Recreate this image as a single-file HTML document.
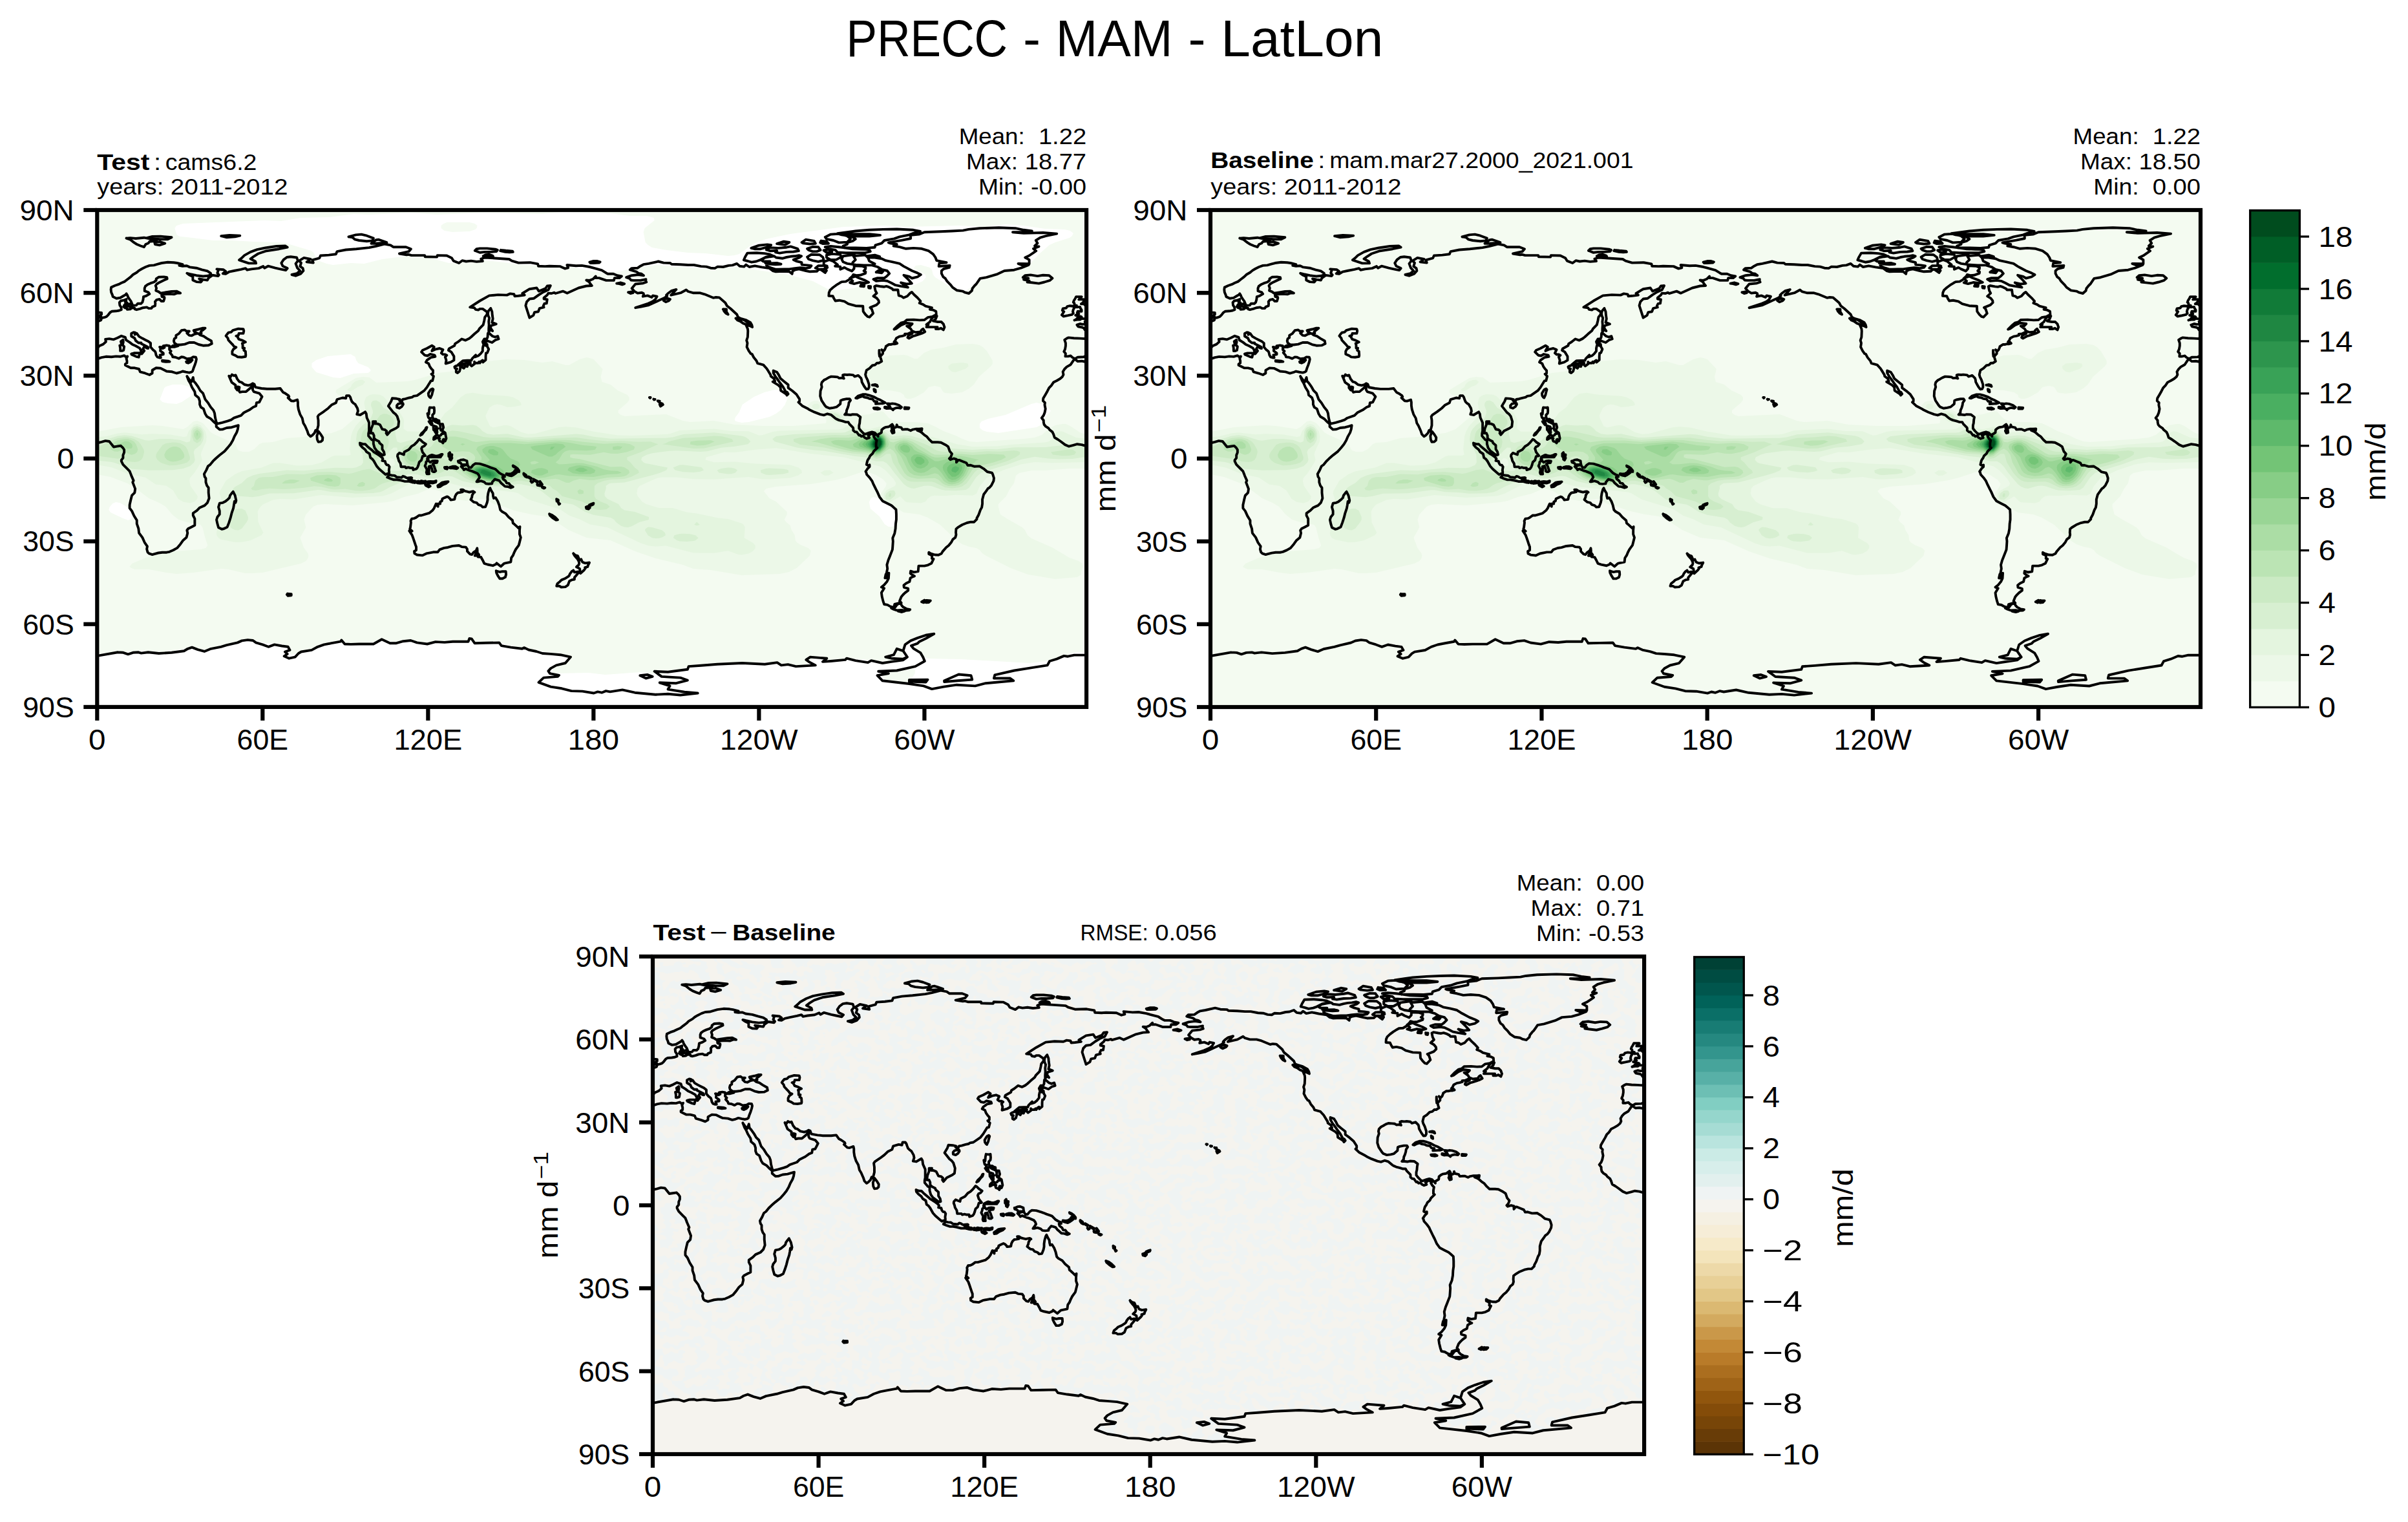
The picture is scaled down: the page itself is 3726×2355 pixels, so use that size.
<!DOCTYPE html>
<html><head><meta charset="utf-8"><title>PRECC - MAM - LatLon</title>
<style>
html,body{margin:0;padding:0;background:#fff;}
svg{display:block;}
text{font-family:"Liberation Sans",sans-serif;fill:#000;}
</style></head><body>
<svg width="3726" height="2355" viewBox="0 0 3726 2355">
<rect width="3726" height="2355" fill="#fff"/>
<defs>
<clipPath id="clip"><rect x="0" y="0" width="1530.18" height="768.91"/></clipPath>
<path id="coast" d="M139.0 257.2L141.6 264.0L144.2 268.3L146.7 274.2L151.0 281.1L151.8 286.2L157.0 290.5L158.7 295.6L158.7 300.7L160.4 305.0L164.6 307.6L167.2 315.3L169.8 319.5L175.7 322.9L180.8 328.1L184.3 331.1L184.3 335.3L189.4 339.6L194.5 339.2L200.5 337.0L208.1 336.2L214.1 334.5L218.4 333.2L217.5 339.2L215.8 344.3L212.4 350.3L209.9 356.3L206.4 362.2L202.2 367.4L197.1 373.3L189.4 379.3L183.4 384.5L179.1 388.7L174.9 393.9L171.5 396.4L168.9 402.4L165.5 408.4L166.3 412.6L168.1 415.2L168.1 421.2L169.8 426.3L172.3 429.7L172.3 437.4L173.2 446.0L170.6 452.8L166.3 457.1L158.7 460.5L154.4 464.8L148.4 469.0L148.4 472.5L151.0 477.6L151.0 484.4L151.0 487.8L145.9 490.4L140.8 493.0L139.0 495.5L139.9 499.8L138.2 506.6L133.1 510.9L128.8 516.9L123.7 522.9L117.7 526.3L111.8 528.8L107.5 529.7L100.7 529.7L94.7 530.5L87.9 532.3L85.3 533.1L80.2 531.4L78.1 529.3L76.8 524.6L77.6 520.3L73.4 514.3L70.0 506.6L64.8 499.8L64.0 493.0L61.4 485.3L61.4 480.1L57.2 473.3L53.7 465.6L50.3 461.3L50.3 456.2L52.0 448.5L53.7 441.7L58.0 437.4L58.9 431.4L56.3 424.6L55.0 421.2L56.3 418.6L52.9 410.9L52.0 408.4L50.3 404.1L46.9 400.7L40.1 393.9L37.5 388.7L37.5 387.0L40.1 383.6L40.1 379.3L41.8 375.1L41.8 370.8L40.1 368.2L36.7 364.8L30.7 365.7L25.6 366.5L22.2 362.2L18.8 358.0L12.8 357.1L6.8 358.8L0.0 360.5L-4.3 363.1L-8.5 364.4L-12.8 363.1L-19.6 362.2L-25.6 363.9L-32.4 365.7L-38.4 363.1L-45.2 358.0L-49.5 355.0L-54.6 352.0L-56.3 346.9L-58.0 343.4L-62.3 340.0L-64.0 337.5L-68.2 334.9L-70.8 331.9L-71.7 328.1L-71.7 325.5L-74.6 321.7L-71.7 317.8L-70.0 313.5L-68.7 307.6L-70.0 301.6L-69.5 298.2L-72.5 295.2L-72.1 291.3L-69.1 286.2L-65.7 280.2L-63.1 275.1L-59.7 271.7L-56.3 266.6L-51.2 264.0L-46.1 261.0L-42.7 258.0L-40.9 254.6L-41.8 250.3L-39.2 246.0L-35.8 242.6L-29.9 239.2L-26.4 234.1L-24.7 231.5L-22.2 231.5L-18.8 234.1L-12.8 233.7L-8.5 234.5L-3.4 231.5L1.7 229.8L6.8 228.1L13.6 226.8L22.2 227.3L29.0 226.4L35.8 226.8L41.8 225.1L44.4 227.3L46.9 226.4L45.2 229.8L46.1 233.2L46.1 236.7L43.5 238.4L43.5 240.1L46.9 241.8L52.0 244.3L58.0 244.3L64.8 246.0L66.5 250.3L74.2 252.5L81.0 255.0L85.3 252.5L85.3 247.8L91.3 244.3L98.1 244.8L104.1 247.8L107.5 249.5L116.0 250.3L122.8 252.5L128.0 251.2L132.2 249.5L137.3 250.7L142.5 251.6L145.9 250.7M1674.6 257.2L1677.1 264.0L1679.7 268.3L1682.2 274.2L1686.5 281.1L1687.4 286.2L1692.5 290.5L1694.2 295.6L1694.2 300.7L1695.9 305.0L1700.1 307.6L1702.7 315.3L1705.3 319.5L1711.2 322.9L1716.4 328.1L1719.8 331.1L1719.8 335.3L1724.9 339.6L1730.0 339.2L1736.0 337.0L1743.7 336.2L1749.6 334.5L1753.9 333.2L1753.0 339.2L1751.3 344.3L1747.9 350.3L1745.4 356.3L1741.9 362.2L1737.7 367.4L1732.6 373.3L1724.9 379.3L1718.9 384.5L1714.7 388.7L1710.4 393.9L1707.0 396.4L1704.4 402.4L1701.0 408.4L1701.9 412.6L1703.6 415.2L1703.6 421.2L1705.3 426.3L1707.8 429.7L1707.8 437.4L1708.7 446.0L1706.1 452.8L1701.9 457.1L1694.2 460.5L1689.9 464.8L1683.9 469.0L1683.9 472.5L1686.5 477.6L1686.5 484.4L1686.5 487.8L1681.4 490.4L1676.3 493.0L1674.6 495.5L1675.4 499.8L1673.7 506.6L1668.6 510.9L1664.3 516.9L1659.2 522.9L1653.2 526.3L1647.3 528.8L1643.0 529.7L1636.2 529.7L1630.2 530.5L1623.4 532.3L1620.8 533.1L1615.7 531.4L1613.6 529.3L1612.3 524.6L1613.1 520.3L1608.9 514.3L1605.5 506.6L1600.3 499.8L1599.5 493.0L1596.9 485.3L1596.9 480.1L1592.7 473.3L1589.3 465.6L1585.8 461.3L1585.8 456.2L1587.5 448.5L1589.3 441.7L1593.5 437.4L1594.4 431.4L1591.8 424.6L1590.5 421.2L1591.8 418.6L1588.4 410.9L1587.5 408.4L1585.8 404.1L1582.4 400.7L1575.6 393.9L1573.0 388.7L1573.0 387.0L1575.6 383.6L1575.6 379.3L1577.3 375.1L1577.3 370.8L1575.6 368.2L1572.2 364.8L1566.2 365.7L1561.1 366.5L1557.7 362.2L1554.3 358.0L1548.3 357.1L1542.3 358.8L1535.5 360.5L1531.2 363.1L1527.0 364.4L1522.7 363.1L1515.9 362.2L1509.9 363.9L1503.1 365.7L1497.1 363.1L1490.3 358.0L1486.0 355.0L1480.9 352.0L1479.2 346.9L1477.5 343.4L1473.2 340.0L1471.5 337.5L1467.3 334.9L1464.7 331.9L1463.9 328.1L1463.9 325.5L1460.9 321.7L1463.9 317.8L1465.6 313.5L1466.8 307.6L1465.6 301.6L1466.0 298.2L1463.0 295.2L1463.4 291.3L1466.4 286.2L1469.8 280.2L1472.4 275.1L1475.8 271.7L1479.2 266.6L1484.3 264.0L1489.4 261.0L1492.9 258.0L1494.6 254.6L1493.7 250.3L1496.3 246.0L1499.7 242.6L1505.7 239.2L1509.1 234.1L1510.8 231.5L1513.3 231.5L1516.7 234.1L1522.7 233.7L1527.0 234.5L1532.1 231.5L1537.2 229.8L1542.3 228.1L1549.2 226.8L1557.7 227.3L1564.5 226.4L1571.3 226.8L1577.3 225.1L1579.9 227.3L1582.4 226.4L1580.7 229.8L1581.6 233.2L1581.6 236.7L1579.0 238.4L1579.0 240.1L1582.4 241.8L1587.5 244.3L1593.5 244.3L1600.3 246.0L1602.0 250.3L1609.7 252.5L1616.5 255.0L1620.8 252.5L1620.8 247.8L1626.8 244.3L1633.6 244.8L1639.6 247.8L1643.0 249.5L1651.5 250.3L1658.3 252.5L1663.5 251.2L1667.7 249.5L1672.9 250.7L1678.0 251.6L1681.4 250.7M210.3 435.7L213.3 441.7L215.0 449.4L214.1 452.8L212.4 450.7L211.6 456.2L210.7 461.3L208.1 469.0L206.4 475.9L203.9 483.6L201.3 490.4L196.2 493.0L192.8 493.8L187.7 491.2L186.0 485.3L184.7 479.3L186.0 475.0L189.4 470.7L189.4 465.6L187.7 459.6L189.4 453.7L194.5 452.8L197.9 451.1L202.2 447.7L204.7 445.1L205.6 441.7L208.1 438.3L210.3 435.7M-23.9 170.4L-19.6 169.6L-15.4 169.6L-12.8 167.9L-8.5 168.3L-4.3 167.5L0.9 167.5L5.1 166.2L6.0 164.9L2.6 164.5L4.3 163.2L6.8 161.5L6.8 158.9L1.7 158.5L0.9 156.3L-0.9 155.1L-0.9 152.9L-5.1 150.8L-6.8 147.8L-9.4 145.2L-13.6 145.2L-11.1 143.5L-9.4 141.0L-7.7 138.4L-14.5 138.0L-17.1 138.4L-14.5 135.8L-12.8 134.1L-21.3 134.1L-23.0 137.5L-24.7 140.1L-25.6 142.7L-23.9 144.4L-23.9 147.8L-20.5 147.8L-20.5 150.4L-15.4 149.9L-14.5 152.1L-12.8 154.6L-12.8 156.8L-18.8 156.8L-19.6 158.9L-17.1 160.6L-22.2 162.8L-17.9 164.0L-13.6 164.9L-12.8 165.7L-17.9 165.7L-21.3 169.2L-23.9 170.4M1511.6 170.4L1515.9 169.6L1520.2 169.6L1522.7 167.9L1527.0 168.3L1531.2 167.5L1536.4 167.5L1540.6 166.2L1541.5 164.9L1538.1 164.5L1539.8 163.2L1542.3 161.5L1542.3 158.9L1537.2 158.5L1536.4 156.3L1534.7 155.1L1534.7 152.9L1530.4 150.8L1528.7 147.8L1526.1 145.2L1521.9 145.2L1524.4 143.5L1526.1 141.0L1527.8 138.4L1521.0 138.0L1518.4 138.4L1521.0 135.8L1522.7 134.1L1514.2 134.1L1512.5 137.5L1510.8 140.1L1509.9 142.7L1511.6 144.4L1511.6 147.8L1515.0 147.8L1515.0 150.4L1520.2 149.9L1521.0 152.1L1522.7 154.6L1522.7 156.8L1516.7 156.8L1515.9 158.9L1518.4 160.6L1513.3 162.8L1517.6 164.0L1521.9 164.9L1522.7 165.7L1517.6 165.7L1514.2 169.2L1511.6 170.4M1509.1 157.2L1509.9 159.8L1507.4 161.9L1501.4 163.2L1494.6 164.5L1492.0 162.3L1493.7 159.8L1495.4 157.2L1492.9 155.5L1493.7 152.5L1498.8 151.6L1500.5 149.1L1504.8 148.2L1509.1 148.7L1511.6 151.2L1509.9 153.8L1509.1 157.2M1435.3 101.2L1443.8 100.4L1454.5 102.1L1463.0 100.8L1472.4 101.2L1477.5 105.5L1473.7 108.9L1465.1 111.5L1456.6 113.6L1445.9 112.3L1438.7 111.5L1441.7 109.4L1433.1 107.6L1440.4 105.5L1431.9 104.2L1435.3 101.2M52.9 222.6L57.2 221.3L64.8 221.3L66.5 221.3L64.8 225.5L64.4 227.7L60.6 226.8L53.7 223.8L52.9 222.6M35.0 209.7L39.2 208.5L41.8 211.4L40.9 217.0L38.4 217.9L35.8 217.9L35.8 213.6L35.0 209.7M36.7 203.3L40.1 200.8L40.5 204.2L39.7 207.6L37.5 206.8L36.7 203.3M100.7 232.8L104.9 233.2L110.0 233.7L112.2 234.5L106.6 234.9L100.7 234.1L100.7 232.8M137.8 234.5L140.8 233.2L147.2 232.0L144.6 234.9L140.8 236.7L138.2 235.8L137.8 234.5M47.8 146.5L51.2 144.8L53.7 145.7L52.9 148.2L51.2 149.9L47.8 148.7L47.8 146.5M41.8 147.4L45.2 147.4L46.1 149.1L43.5 149.5L41.8 147.4M45.2 43.6L51.2 45.7L57.2 50.4L61.4 53.0L67.4 55.5L72.5 57.2L75.1 53.0L79.3 51.3L81.0 48.7L92.1 47.8L81.0 44.4L72.5 42.7L59.7 44.0L51.2 43.1L45.2 43.6M76.8 43.1L85.3 41.0L98.1 40.6L115.2 42.3L109.2 45.3L97.2 45.3L87.9 44.4L76.8 43.1M88.7 49.6L97.2 49.1L104.9 51.7L96.4 54.3L89.6 53.0L88.7 49.6M191.9 40.2L204.7 38.9L220.9 39.7L213.3 41.4L200.5 42.3L191.9 40.2M219.7 77.3L223.5 74.3L227.8 70.1L237.2 64.9L247.4 61.1L260.2 58.5L277.2 56.0L290.9 55.5L294.3 57.7L281.5 60.2L261.9 63.2L249.1 67.5L242.3 71.8L237.2 75.6L244.8 79.5L245.7 82.4L234.6 82.4L228.6 80.3L219.7 77.3M818.5 104.2L827.0 101.2L836.9 100.0L845.4 101.2L842.0 98.7L837.3 97.8L833.9 95.3L824.1 92.5L826.6 90.1L836.0 89.7L840.3 86.7L845.0 84.2L853.1 82.9L868.0 79.5L876.1 81.6L886.3 82.0L888.5 83.7L902.1 84.2L914.1 85.0L923.0 85.0L934.1 87.1L942.2 87.6L949.0 89.7L955.4 90.1L959.7 87.6L968.2 88.0L976.8 85.9L982.7 85.4L989.5 82.9L993.8 86.7L1000.6 87.6L1003.6 84.6L1008.7 88.0L1017.3 86.3L1027.9 88.4L1039.9 90.1L1045.0 94.0L1049.7 95.3L1062.1 94.8L1070.6 95.3L1074.9 98.7L1075.7 94.4L1079.1 92.7L1085.5 91.4L1096.2 94.0L1102.6 95.3L1113.2 94.8L1115.8 92.3L1118.8 91.8L1126.0 97.0L1128.2 93.6L1125.6 89.7L1129.0 86.7L1123.9 85.0L1123.9 80.3L1132.4 76.9L1138.8 79.5L1145.2 84.6L1141.4 86.7L1149.5 87.6L1149.5 91.8L1155.9 88.9L1160.2 91.4L1167.4 94.4L1170.8 90.6L1170.8 86.3L1183.2 86.7L1188.7 88.9L1188.3 91.4L1185.8 94.0L1188.7 95.7L1188.3 97.8L1180.2 100.8L1174.2 101.2L1169.5 100.0L1168.3 102.1L1164.4 105.9L1163.1 107.6L1158.0 110.6L1151.6 111.1L1148.6 112.8L1143.1 116.2L1138.0 120.0L1133.7 123.9L1132.0 127.7L1131.6 132.8L1138.0 133.3L1139.7 137.1L1141.8 140.5L1147.8 139.7L1155.9 141.4L1161.9 145.2L1173.0 148.2L1184.5 148.7L1184.9 156.8L1188.3 161.5L1191.7 164.9L1194.7 165.7L1200.3 159.8L1198.1 153.4L1195.6 150.8L1205.4 146.9L1209.2 143.1L1208.8 140.1L1205.8 136.3L1200.7 133.3L1205.8 128.6L1203.7 124.7L1202.4 118.3L1204.9 117.0L1212.6 118.3L1216.9 118.8L1220.7 117.9L1224.6 119.2L1229.7 121.7L1231.0 123.5L1238.6 123.5L1239.1 127.3L1239.9 132.4L1243.8 133.3L1247.2 135.8L1253.1 133.3L1257.4 128.6L1260.0 126.9L1263.4 130.7L1268.9 135.8L1273.6 141.0L1271.9 144.0L1277.5 146.1L1281.3 148.7L1291.1 151.2L1288.1 153.8L1292.8 154.6L1297.5 156.8L1297.9 161.9L1294.9 163.2L1292.0 164.9L1284.7 166.2L1279.6 170.0L1272.3 170.4L1263.0 169.6L1252.3 170.0L1248.9 173.0L1243.3 174.7L1238.2 179.0L1232.7 184.5L1235.7 183.7L1243.3 178.1L1251.4 174.7L1260.8 176.0L1257.8 179.0L1252.3 179.4L1258.3 183.7L1260.4 187.1L1265.9 189.2L1273.2 188.4L1275.3 185.4L1277.5 183.7L1280.4 188.4L1275.3 190.9L1264.7 194.4L1261.7 195.2L1255.7 198.6L1253.6 197.4L1254.9 193.9L1260.8 190.9L1258.7 189.2L1254.0 191.4L1249.3 191.8L1249.7 193.5L1245.5 194.8L1241.2 195.6L1236.1 198.2L1234.4 202.1L1232.7 203.8L1234.8 205.9L1236.1 204.8L1237.4 206.3L1234.4 207.2L1231.0 207.2L1227.6 208.0L1224.6 208.0L1219.9 211.0L1219.9 211.9L1218.2 216.1L1216.0 218.3L1213.5 216.1L1215.2 218.7L1215.2 222.1L1211.8 226.0L1210.1 222.1L1209.6 217.0L1209.6 222.1L1210.1 226.4L1211.3 226.8L1212.2 230.2L1213.5 234.1L1209.2 236.7L1206.2 236.7L1203.2 239.6L1199.0 240.5L1194.7 244.8L1190.0 247.8L1188.3 254.6L1189.2 258.0L1191.7 263.1L1193.9 270.0L1193.9 274.2L1192.6 276.8L1189.6 277.2L1186.6 273.0L1184.9 270.0L1182.8 266.1L1182.3 262.3L1181.5 260.1L1177.2 255.9L1171.7 257.6L1169.5 255.4L1163.6 254.6L1160.2 255.0L1155.9 254.6L1153.3 255.4L1154.2 259.3L1155.0 260.6L1151.6 259.7L1147.8 260.1L1145.2 258.4L1141.0 258.0L1135.4 257.6L1131.2 259.3L1127.7 261.4L1124.3 263.1L1120.9 266.6L1120.1 270.0L1120.9 273.8L1118.8 279.8L1118.4 287.9L1120.5 294.7L1125.6 302.4L1127.7 304.6L1132.9 306.7L1138.8 305.9L1144.0 304.6L1149.5 299.9L1149.9 294.7L1152.9 293.5L1159.3 292.2L1164.0 292.2L1165.3 294.3L1162.7 298.2L1162.3 301.6L1161.0 305.9L1159.3 309.7L1158.9 313.5L1156.3 316.5L1160.6 316.5L1165.3 317.0L1168.7 316.1L1175.5 316.5L1180.6 320.4L1179.8 324.6L1179.4 329.8L1178.5 333.2L1178.5 337.9L1181.5 341.7L1184.9 345.2L1187.9 346.9L1194.7 344.3L1198.5 343.4L1202.8 344.7L1205.4 347.3L1207.9 350.3L1207.5 347.7L1213.1 344.3L1213.5 340.0L1216.5 337.5L1219.0 336.2L1224.6 335.3L1229.7 331.5L1231.4 334.0L1228.8 337.0L1230.1 337.9L1228.4 341.7L1230.1 345.2L1232.7 344.3L1232.2 340.0L1231.0 337.9L1236.1 335.8L1236.9 332.3L1237.8 335.3L1243.8 336.6L1245.5 339.6L1250.2 339.2L1253.6 339.2L1258.3 341.3L1261.7 339.6L1266.8 338.7L1271.5 338.7L1268.5 340.9L1272.8 342.6L1275.8 344.7L1279.6 348.1L1283.0 350.3L1287.3 355.4L1291.5 359.2L1300.1 359.2L1305.2 359.7L1312.4 363.5L1316.3 366.1L1318.8 373.3L1322.2 377.2L1320.5 381.9L1318.0 384.5L1319.7 386.2L1324.8 384.5L1329.1 385.7L1329.1 390.4L1331.6 387.0L1333.8 387.0L1339.3 389.2L1344.4 391.3L1346.6 395.1L1350.4 394.7L1357.2 396.8L1364.9 396.4L1371.3 400.3L1376.8 405.0L1384.1 406.7L1385.4 409.2L1387.1 414.8L1386.6 419.1L1383.2 425.9L1380.3 429.3L1377.7 431.0L1375.1 434.9L1371.3 440.0L1369.2 447.7L1369.2 454.5L1368.3 460.1L1366.2 463.9L1363.6 471.2L1360.6 476.7L1360.6 478.4L1356.4 482.7L1351.2 482.7L1345.3 484.0L1338.0 487.0L1331.2 491.2L1328.6 493.4L1328.2 498.9L1328.6 502.4L1327.4 506.6L1323.5 509.6L1321.0 514.3L1317.1 519.0L1313.3 522.0L1307.7 528.4L1306.0 531.4L1301.3 533.7L1295.8 533.5L1289.0 531.4L1286.4 529.7L1286.4 532.3L1290.3 534.0L1291.5 536.1L1291.1 539.1L1293.7 539.9L1290.3 546.8L1285.1 549.3L1279.6 550.6L1270.6 550.6L1270.2 555.3L1269.8 559.2L1263.4 560.4L1258.3 558.7L1257.8 562.2L1261.7 565.1L1264.2 566.4L1260.8 567.7L1257.8 569.4L1256.6 575.0L1251.4 577.5L1247.6 580.5L1248.0 583.9L1254.4 585.7L1254.4 588.6L1249.7 592.1L1246.7 595.0L1243.8 598.5L1241.2 604.9L1243.8 607.9L1239.5 608.3L1233.5 610.0L1233.1 611.7L1232.7 614.3L1231.4 614.7L1226.7 613.4L1222.4 610.9L1217.3 610.0L1215.6 604.9L1213.9 598.0L1213.1 592.1L1217.3 585.2L1213.1 583.5L1217.3 580.1L1221.6 575.0L1224.1 569.8L1224.6 561.7L1220.7 563.0L1222.4 554.9L1221.6 548.9L1223.7 541.7L1225.8 536.5L1230.1 525.4L1230.5 520.3L1231.0 512.6L1230.5 507.5L1233.5 500.2L1234.8 493.0L1235.2 485.3L1236.1 478.9L1236.1 470.7L1235.7 463.5L1231.4 459.6L1228.4 457.1L1222.4 454.1L1214.8 450.2L1210.1 443.8L1206.7 436.1L1204.5 431.9L1200.3 423.3L1198.5 419.1L1194.7 413.9L1190.4 409.2L1189.6 406.2L1188.7 404.5L1192.2 399.4L1194.7 397.3L1194.7 394.3L1193.0 395.6L1190.0 393.9L1191.3 388.3L1192.2 386.2L1193.9 384.0L1195.6 380.2L1199.4 376.8L1201.1 373.3L1206.7 367.8L1204.9 366.5L1204.9 361.0L1205.8 356.3L1203.2 353.7L1201.1 350.3L1202.4 348.6L1198.5 346.4L1196.4 346.0L1195.1 347.7L1192.6 349.0L1194.3 352.4L1190.4 353.7L1187.0 352.0L1184.9 349.4L1181.9 350.3L1180.2 348.1L1178.5 348.6L1174.7 343.4L1172.5 343.4L1169.5 340.9L1169.5 337.5L1169.1 336.6L1163.6 331.1L1161.9 328.1L1158.0 328.1L1152.5 326.4L1147.4 325.1L1143.5 323.4L1141.4 322.1L1135.4 317.0L1129.5 315.3L1123.9 317.4L1118.4 316.1L1109.4 312.7L1102.2 309.3L1099.6 307.6L1090.6 302.9L1084.7 297.3L1086.4 296.0L1086.4 292.6L1081.7 285.3L1075.3 279.8L1068.9 275.1L1068.9 270.4L1062.5 265.3L1056.9 260.6L1054.4 255.4L1051.4 250.7L1045.9 248.6L1045.9 252.0L1049.3 258.0L1051.4 260.6L1054.4 264.8L1056.5 267.8L1060.8 273.4L1065.0 281.1L1067.2 281.9L1068.9 284.5L1066.8 286.6L1065.5 284.5L1057.4 279.4L1056.9 274.2L1053.5 270.8L1045.0 265.7L1048.4 264.8L1046.7 260.6L1042.0 257.2L1041.6 255.0L1037.7 248.6L1035.6 245.2L1030.5 239.6L1021.5 237.1L1019.8 233.2L1015.6 228.1L1013.0 223.0L1010.9 222.1L1007.9 217.9L1004.9 211.9L1005.8 205.9L1004.5 201.6L1006.2 196.5L1006.6 187.1L1006.2 183.7L1003.6 177.7L1009.2 179.0L1013.4 181.1L1012.6 177.7L1010.4 173.9L1003.2 170.0L994.7 167.5L991.3 165.7L989.5 161.5L979.7 152.5L974.2 148.2L971.6 143.5L962.3 135.4L957.1 135.0L952.9 135.8L939.6 130.3L932.0 128.2L921.7 128.2L914.1 126.0L911.1 123.5L902.5 128.2L887.6 131.6L889.3 129.9L895.7 123.0L888.0 125.2L882.9 129.0L880.4 131.6L881.6 132.8L877.8 135.8L870.1 139.3L859.9 144.0L852.2 147.4L841.5 149.5L832.6 151.2L840.3 148.7L850.9 145.2L859.5 141.4L863.3 138.4L865.9 133.7L859.5 132.4L857.8 135.0L851.4 132.4L844.1 133.7L845.4 130.7L845.0 129.0L842.4 127.7L836.0 128.6L830.9 125.6L827.0 121.3L830.5 117.0L832.6 114.5L844.5 113.2L849.6 111.5L848.4 108.9L848.8 107.2L840.3 108.9L830.0 108.9L825.8 108.5L823.6 105.9L818.5 104.2M1224.1 50.4L1245.5 46.6L1258.3 44.0L1258.3 38.9L1271.1 37.6L1279.6 34.2L1305.2 33.3L1322.2 32.5L1339.3 31.6L1347.8 29.9L1364.9 28.2L1394.8 27.3L1420.3 28.2L1433.1 30.8L1445.9 32.5L1441.7 34.2L1416.1 34.2L1433.1 35.9L1463.0 35.0L1484.3 36.7L1467.3 40.2L1458.7 42.7L1451.9 47.0L1454.5 51.3L1450.2 55.5L1456.6 56.4L1448.1 59.8L1452.3 63.2L1448.1 66.2L1441.7 70.5L1435.3 73.5L1441.7 76.9L1441.7 83.3L1424.6 82.9L1431.0 85.4L1440.8 85.0L1428.9 89.7L1418.2 92.7L1403.3 94.0L1392.6 99.1L1375.6 104.2L1365.7 105.9L1362.8 110.2L1359.8 114.5L1357.2 117.0L1353.8 121.3L1353.0 124.7L1348.3 129.0L1342.7 127.7L1338.5 125.6L1329.9 124.3L1323.1 119.6L1319.7 115.3L1314.6 110.2L1312.0 105.9L1308.6 103.4L1306.0 98.2L1306.0 94.0L1309.4 91.0L1318.0 88.9L1318.8 85.9L1301.8 87.1L1302.6 82.4L1313.7 81.2L1298.4 78.2L1296.7 73.5L1293.2 68.3L1286.0 63.2L1275.3 59.8L1262.5 58.9L1251.0 59.8L1241.2 57.2L1231.8 55.5L1236.9 53.0L1226.3 51.3L1224.1 50.4M1298.8 164.0L1297.1 168.3L1293.2 171.7L1300.1 173.0L1305.6 173.0L1309.0 176.4L1310.3 180.3L1310.7 181.1L1309.0 185.4L1305.2 182.8L1301.3 184.1L1297.1 184.1L1299.6 181.1L1293.7 181.1L1282.6 181.1L1285.6 177.3L1282.6 177.3L1288.1 173.0L1290.7 168.3L1293.2 165.3L1298.8 164.0M1173.4 290.9L1177.2 287.5L1184.0 285.3L1189.2 285.3L1194.3 286.6L1200.7 288.8L1206.2 291.8L1211.3 293.9L1219.0 298.2L1214.8 299.4L1212.2 299.4L1204.1 299.9L1206.2 296.5L1202.0 296.0L1199.4 292.6L1194.3 291.8L1191.7 290.5L1186.6 289.6L1184.0 287.9L1178.9 289.6L1175.5 291.3L1173.4 290.9M1218.2 305.9L1218.2 304.6L1224.1 305.4L1226.7 305.0L1225.0 302.4L1222.4 300.3L1222.4 299.4L1227.6 299.9L1229.7 299.4L1234.0 299.9L1240.3 302.0L1242.5 303.7L1244.2 305.0L1242.5 306.7L1237.4 305.9L1234.4 306.7L1232.2 307.6L1231.0 309.3L1229.3 307.6L1226.3 306.7L1221.2 307.1L1218.2 305.9M1201.1 306.3L1207.1 305.9L1210.5 307.6L1207.1 308.4L1202.0 307.6L1201.1 306.3M1248.9 305.4L1255.7 305.9L1254.9 307.6L1248.9 307.6L1248.9 305.4M1199.0 270.8L1203.2 270.0L1206.2 270.8L1207.1 273.0L1204.5 271.7L1199.0 270.8M1201.5 277.2L1203.7 278.5L1204.1 281.5L1202.0 280.2L1201.5 277.2M1271.5 338.7L1275.8 338.3L1275.3 341.3L1271.5 341.3L1271.5 338.7M1242.9 609.1L1244.6 612.1L1246.7 614.3L1252.3 617.3L1257.4 618.1L1255.7 619.4L1249.7 619.8L1244.2 619.0L1236.9 619.4L1231.0 617.3L1228.4 616.0L1233.1 615.6L1235.2 613.4L1236.9 610.9L1239.5 609.1L1242.9 609.1M1239.1 620.7L1244.6 622.0L1248.9 620.7L1245.5 619.4L1239.1 620.7M1219.9 563.4L1222.0 563.9L1222.0 569.4L1218.6 569.4L1219.9 563.4M1275.3 606.2L1279.6 603.6L1282.6 605.3L1278.3 607.4L1275.3 606.2M1283.0 604.0L1289.0 604.4L1286.4 607.0L1282.1 607.4L1283.9 605.7L1283.0 604.0M294.3 593.8L300.3 594.2L300.3 596.3L295.2 596.8L293.5 595.0L294.3 593.8M870.5 298.2L874.4 299.9L875.2 301.2L871.4 303.7L870.1 300.7L870.5 298.2M867.1 295.2L870.1 295.6L868.4 296.5L867.1 295.2M860.7 292.6L862.9 293.0L861.6 293.5L860.7 292.6M854.3 290.0L856.0 290.0L855.2 290.9L854.3 290.0M987.8 167.5L993.8 168.3L1000.6 170.0L1006.6 174.3L1009.2 177.7L1004.1 177.3L998.9 175.1L994.7 172.1L990.4 170.4L987.8 167.5M968.2 153.4L973.3 153.4L973.3 157.2L975.9 161.5L972.5 159.8L969.9 156.8L968.2 153.4M876.1 138.4L882.9 136.7L886.3 138.0L884.6 140.1L879.5 142.2L876.1 140.1L876.1 138.4M803.6 113.6L809.6 112.3L815.5 114.1L812.1 115.3L807.8 114.1L803.6 113.6M821.5 127.3L826.6 126.4L828.7 128.2L824.9 129.0L821.5 127.3M-1559.8 688.6L-1538.9 688.6L-1535.5 689.9L-1503.5 684.3L-1495.0 684.8L-1487.7 687.3L-1480.1 684.8L-1471.5 684.3L-1467.3 685.6L-1456.6 684.3L-1440.0 686.0L-1420.3 684.8L-1401.2 682.2L-1395.2 678.8L-1388.8 676.6L-1379.8 680.1L-1369.6 683.0L-1360.6 679.2L-1344.0 675.8L-1335.0 673.2L-1318.4 669.4L-1311.6 666.4L-1302.6 665.1L-1294.5 666.0L-1289.8 669.4L-1279.6 672.4L-1270.6 675.8L-1261.2 672.4L-1249.7 674.5L-1240.3 675.8L-1237.4 680.9L-1245.0 683.5L-1241.2 686.9L-1246.3 690.3L-1238.6 693.7L-1229.3 691.6L-1224.1 686.0L-1219.9 683.5L-1203.7 680.9L-1194.3 675.8L-1184.5 672.4L-1173.0 670.2L-1158.9 667.7L-1157.6 665.5L-1152.5 671.5L-1143.1 671.9L-1130.3 671.5L-1108.1 671.5L-1095.3 664.2L-1082.5 670.2L-1072.7 670.2L-1062.1 667.2L-1050.5 666.0L-1040.7 669.4L-1025.0 671.5L-1012.2 668.1L-998.1 668.9L-985.3 667.7L-961.4 667.7L-959.7 663.0L-956.3 663.4L-951.6 670.2L-934.1 669.8L-913.6 669.4L-910.2 674.1L-895.7 676.6L-878.2 678.8L-875.2 677.1L-868.0 680.5L-856.0 683.0L-846.7 686.0L-833.9 686.9L-818.9 688.2L-803.2 691.6L-811.3 701.0L-825.3 704.4L-833.9 709.1L-837.7 713.4L-835.1 717.2L-821.1 719.8L-823.2 721.9L-845.0 723.6L-852.6 730.9L-833.9 737.7L-816.8 740.3L-801.9 744.1L-784.8 744.6L-767.3 747.5L-761.4 745.4L-755.0 746.7L-748.6 744.1L-742.2 745.4L-723.0 742.4L-703.8 746.7L-671.8 749.7L-652.6 748.8L-633.4 750.5L-606.5 747.5L-627.0 745.8L-652.6 741.6L-649.6 736.4L-665.4 731.3L-639.8 732.2L-622.3 727.5L-633.4 723.6L-662.4 721.9L-673.5 713.8L-652.6 714.7L-622.3 710.8L-620.6 706.1L-601.4 704.8L-576.2 702.7L-537.9 701.0L-502.9 702.7L-483.7 700.1L-477.3 704.4L-467.1 703.1L-454.7 706.1L-424.4 704.4L-432.9 700.1L-438.9 695.9L-432.5 691.6L-406.9 693.7L-413.3 698.9L-400.9 698.0L-378.3 695.9L-376.2 693.7L-362.6 697.1L-343.4 700.1L-338.2 697.1L-320.8 701.0L-307.1 698.9L-288.8 696.3L-282.4 691.6L-288.8 682.2L-285.8 672.4L-277.2 666.4L-266.6 662.1L-253.8 657.8L-241.0 655.7L-253.8 663.0L-263.6 667.7L-266.6 670.7L-276.4 674.1L-273.0 678.3L-261.9 685.2L-258.1 692.0L-255.5 698.0L-270.0 706.1L-298.6 712.5L-327.1 713.8L-311.4 717.2L-328.9 720.2L-320.8 728.3L-279.4 733.0L-257.2 736.4L-244.4 741.1L-226.1 737.7L-206.0 734.7L-177.4 736.4L-161.2 732.2L-118.1 728.3L-123.3 724.5L-148.4 724.5L-147.2 719.4L-116.9 712.5L-89.6 708.2L-65.7 704.4L-62.3 698.0L-51.2 694.6L-40.1 689.9L-34.1 690.7L-24.3 688.6L-3.4 688.6L0.0 689.9L32.0 684.3M-24.3 688.6L-3.4 688.6L0.0 689.9L32.0 684.3L40.5 684.8L47.8 687.3L55.4 684.8L64.0 684.3L68.2 685.6L78.9 684.3L95.5 686.0L115.2 684.8L134.4 682.2L140.3 678.8L146.7 676.6L155.7 680.1L165.9 683.0L174.9 679.2L191.5 675.8L200.5 673.2L217.1 669.4L223.9 666.4L232.9 665.1L241.0 666.0L245.7 669.4L255.9 672.4L264.9 675.8L274.3 672.4L285.8 674.5L295.2 675.8L298.1 680.9L290.5 683.5L294.3 686.9L289.2 690.3L296.9 693.7L306.2 691.6L311.4 686.0L315.6 683.5L331.8 680.9L341.2 675.8L351.0 672.4L362.6 670.2L376.6 667.7L377.9 665.5L383.0 671.5L392.4 671.9L405.2 671.5L427.4 671.5L440.2 664.2L453.0 670.2L462.8 670.2L473.4 667.2L485.0 666.0L494.8 669.4L510.6 671.5L523.4 668.1L537.4 668.9L550.2 667.7L574.1 667.7L575.8 663.0L579.2 663.4L583.9 670.2L601.4 669.8L621.9 669.4L625.3 674.1L639.8 676.6L657.3 678.8L660.3 677.1L667.5 680.5L679.5 683.0L688.8 686.0L701.6 686.9L716.6 688.2L732.4 691.6L724.2 701.0L710.2 704.4L701.6 709.1L697.8 713.4L700.4 717.2L714.4 719.8L712.3 721.9L690.6 723.6L682.9 730.9L701.6 737.7L718.7 740.3L733.6 744.1L750.7 744.6L768.2 747.5L774.2 745.4L780.5 746.7L786.9 744.1L793.3 745.4L812.5 742.4L831.7 746.7L863.7 749.7L882.9 748.8L902.1 750.5L929.0 747.5L908.5 745.8L882.9 741.6L885.9 736.4L870.1 731.3L895.7 732.2L913.2 727.5L902.1 723.6L873.1 721.9L862.0 713.8L882.9 714.7L913.2 710.8L914.9 706.1L934.1 704.8L959.3 702.7L997.7 701.0L1032.6 702.7L1051.8 700.1L1058.2 704.4L1068.5 703.1L1080.8 706.1L1111.1 704.4L1102.6 700.1L1096.6 695.9L1103.0 691.6L1128.6 693.7L1122.2 698.9L1134.6 698.0L1157.2 695.9L1159.3 693.7L1173.0 697.1L1192.2 700.1L1197.3 697.1L1214.8 701.0L1228.4 698.9L1246.7 696.3L1253.1 691.6L1246.7 682.2L1249.7 672.4L1258.3 666.4L1268.9 662.1L1281.7 657.8L1294.5 655.7L1281.7 663.0L1271.9 667.7L1268.9 670.7L1259.1 674.1L1262.5 678.3L1273.6 685.2L1277.5 692.0L1280.0 698.0L1265.5 706.1L1236.9 712.5L1208.4 713.8L1224.1 717.2L1206.7 720.2L1214.8 728.3L1256.1 733.0L1278.3 736.4L1291.1 741.1L1309.4 737.7L1329.5 734.7L1358.1 736.4L1374.3 732.2L1417.4 728.3L1412.2 724.5L1387.1 724.5L1388.4 719.4L1418.6 712.5L1445.9 708.2L1469.8 704.4L1473.2 698.0L1484.3 694.6L1495.4 689.9L1501.4 690.7L1511.2 688.6L1532.1 688.6L1535.5 689.9L1567.5 684.3M1511.2 688.6L1532.1 688.6L1535.5 689.9L1567.5 684.3L1576.0 684.8L1583.3 687.3L1591.0 684.8L1599.5 684.3L1603.8 685.6L1614.4 684.3L1631.1 686.0L1650.7 684.8L1669.9 682.2L1675.8 678.8L1682.2 676.6L1691.2 680.1L1701.4 683.0L1710.4 679.2L1727.0 675.8L1736.0 673.2L1752.6 669.4L1759.4 666.4L1768.4 665.1L1776.5 666.0L1781.2 669.4L1791.4 672.4L1800.4 675.8L1809.8 672.4L1821.3 674.5L1830.7 675.8L1833.7 680.9L1826.0 683.5L1829.8 686.9L1824.7 690.3L1832.4 693.7L1841.8 691.6L1846.9 686.0L1851.1 683.5L1867.3 680.9L1876.7 675.8L1886.5 672.4L1898.1 670.2L1912.1 667.7L1913.4 665.5L1918.5 671.5L1927.9 671.9L1940.7 671.5L1962.9 671.5L1975.7 664.2L1988.5 670.2L1998.3 670.2L2009.0 667.2L2020.5 666.0L2030.3 669.4L2046.1 671.5L2058.9 668.1L2072.9 668.9L2085.7 667.7L2109.6 667.7L2111.3 663.0L2114.7 663.4L2119.4 670.2L2136.9 669.8L2157.4 669.4L2160.8 674.1L2175.3 676.6L2192.8 678.8L2195.8 677.1L2203.0 680.5L2215.0 683.0L2224.4 686.0L2237.1 686.9L2252.1 688.2L2267.9 691.6L2259.8 701.0L2245.7 704.4L2237.1 709.1L2233.3 713.4L2235.9 717.2L2249.9 719.8L2247.8 721.9L2226.1 723.6L2218.4 730.9L2237.1 737.7L2254.2 740.3L2269.1 744.1L2286.2 744.6L2303.7 747.5L2309.7 745.4L2316.1 746.7L2322.5 744.1L2328.9 745.4L2348.0 742.4L2367.2 746.7L2399.2 749.7L2418.4 748.8L2437.6 750.5L2464.5 747.5L2444.0 745.8L2418.4 741.6L2421.4 736.4L2405.6 731.3L2431.2 732.2L2448.7 727.5L2437.6 723.6L2408.6 721.9L2397.5 713.8L2418.4 714.7L2448.7 710.8L2450.4 706.1L2469.6 704.8L2494.8 702.7L2533.2 701.0L2568.1 702.7L2587.3 700.1L2593.7 704.4L2604.0 703.1L2616.3 706.1L2646.6 704.4L2638.1 700.1L2632.1 695.9L2638.5 691.6L2664.1 693.7L2657.7 698.9L2670.1 698.0L2692.7 695.9L2694.8 693.7L2708.5 697.1L2727.7 700.1L2732.8 697.1L2750.3 701.0L2763.9 698.9L2782.3 696.3L2788.7 691.6L2782.3 682.2L2785.2 672.4L2793.8 666.4L2804.4 662.1L2817.2 657.8L2830.0 655.7L2817.2 663.0L2807.4 667.7L2804.4 670.7L2794.6 674.1L2798.0 678.3L2809.1 685.2L2813.0 692.0L2815.5 698.0L2801.0 706.1L2772.4 712.5L2743.9 713.8L2759.6 717.2L2742.2 720.2L2750.3 728.3L2791.6 733.0L2813.8 736.4L2826.6 741.1L2845.0 737.7L2865.0 734.7L2893.6 736.4L2909.8 732.2L2952.9 728.3L2947.7 724.5L2922.6 724.5L2923.9 719.4L2954.1 712.5L2981.4 708.2L3005.3 704.4L3008.7 698.0L3019.8 694.6L3030.9 689.9L3036.9 690.7L3046.7 688.6L3067.6 688.6L3071.0 689.9L3103.0 684.3M1246.7 682.2L1236.9 678.8L1232.2 688.2L1219.4 691.6L1228.4 693.7L1246.7 694.6L1253.1 691.6M1310.3 728.3L1332.5 718.5L1351.7 720.2L1353.4 726.6L1330.8 728.3L1310.3 730.0L1310.3 728.3M1256.1 727.0L1284.7 726.6L1281.7 730.5L1256.1 729.6L1256.1 727.0M839.8 720.2L850.9 718.9L859.0 721.9L848.8 724.5L839.8 720.2M1000.2 77.3L1002.3 72.6L1005.8 66.6L1020.3 66.2L1032.2 67.1L1039.5 68.3L1044.6 70.5L1033.9 73.0L1024.5 77.7L1019.4 79.5L1012.2 80.7L1006.6 79.0L1000.2 77.3M1035.2 85.4L1036.5 83.3L1049.3 84.2L1057.8 83.7L1051.4 82.0L1040.7 82.4L1033.5 82.0L1040.7 79.5L1030.5 79.5L1027.5 77.7L1032.2 73.9L1040.7 72.2L1047.1 71.3L1050.1 73.5L1059.9 74.8L1066.3 73.0L1072.7 71.8L1079.1 71.3L1085.5 70.1L1089.4 71.3L1086.4 73.5L1077.0 76.9L1081.3 79.0L1089.8 81.2L1089.8 84.6L1098.3 85.4L1104.7 86.3L1102.6 88.9L1096.2 90.1L1087.7 89.3L1079.1 90.1L1070.6 91.4L1062.1 91.4L1053.5 91.8L1049.7 91.8L1042.9 89.7L1037.3 87.6L1035.2 85.4M1011.7 58.9L1023.7 54.7L1036.5 53.4L1042.4 54.3L1037.3 57.2L1026.2 60.2L1016.8 60.2L1011.7 58.9M1051.4 52.1L1062.1 48.7L1070.6 50.0L1064.2 53.8L1051.4 52.1M1035.2 61.5L1040.7 58.1L1053.5 58.9L1066.3 57.7L1072.7 56.4L1083.4 59.8L1085.1 63.2L1077.0 64.5L1066.3 64.9L1055.7 66.6L1049.3 65.4L1051.4 62.8L1040.7 63.2L1035.2 61.5M1089.8 50.0L1096.2 45.7L1109.0 47.8L1111.1 51.7L1102.6 52.5L1091.9 51.3L1089.8 50.0M1119.6 47.8L1128.2 48.7L1131.2 51.7L1122.6 52.1L1118.4 50.4L1119.6 47.8M1098.3 59.8L1106.8 56.8L1115.4 57.2L1118.8 61.9L1113.2 64.1L1106.8 64.1L1100.4 61.9L1098.3 59.8M1123.9 62.4L1130.3 61.1L1136.7 62.8L1136.3 65.4L1128.2 65.8L1123.9 62.4M1098.3 72.6L1104.7 68.8L1117.5 69.2L1122.6 73.0L1123.9 77.7L1115.4 79.9L1106.8 78.2L1100.4 76.0L1098.3 72.6M1128.2 69.6L1136.7 67.9L1149.5 68.8L1150.8 72.6L1143.1 76.9L1134.6 76.9L1128.2 73.5L1128.2 69.6M1111.1 89.7L1115.4 86.3L1126.0 85.9L1129.5 88.9L1125.2 91.8L1115.4 91.4L1111.1 89.7M1126.0 41.9L1134.6 37.6L1147.4 36.7L1160.2 40.2L1165.3 44.4L1160.2 49.6L1147.4 50.4L1138.8 47.0L1128.2 44.9L1126.0 41.9M1126.0 57.2L1134.6 56.0L1147.4 57.2L1153.8 58.1L1168.7 60.2L1181.5 60.7L1194.3 61.1L1196.0 64.1L1187.9 66.2L1173.0 66.2L1158.0 66.2L1145.2 65.4L1141.8 61.9L1132.4 60.2L1126.0 57.2M1155.9 58.5L1173.0 58.5L1190.0 58.9L1202.8 57.7L1203.7 54.3L1213.5 51.3L1215.6 49.1L1217.7 47.0L1232.7 44.4L1241.2 41.4L1256.1 38.4L1262.5 35.9L1273.2 32.9L1262.5 30.8L1236.9 29.5L1215.6 29.9L1194.3 30.8L1173.0 32.5L1160.2 34.2L1145.2 36.3L1151.6 38.4L1166.6 40.6L1173.0 44.9L1168.7 47.8L1160.2 50.4L1160.2 53.0L1153.8 55.5L1155.9 58.5M1166.6 40.6L1194.3 40.6L1211.3 38.9L1194.3 37.2L1168.7 37.2L1151.6 38.4M1153.8 71.3L1168.7 69.2L1173.8 70.9L1187.9 69.6L1192.2 73.5L1202.8 73.5L1213.5 75.2L1219.9 78.2L1230.5 80.3L1241.2 82.9L1247.6 87.1L1251.0 88.9L1260.4 94.0L1268.9 97.4L1274.0 100.0L1268.9 103.4L1260.4 105.5L1256.1 102.9L1247.6 100.8L1254.0 106.8L1260.0 113.6L1251.9 114.5L1243.3 112.3L1254.0 119.6L1243.3 117.9L1234.8 116.2L1228.4 112.8L1222.0 109.8L1215.6 108.9L1204.9 109.8L1200.7 107.2L1207.1 105.1L1217.7 105.1L1221.2 102.5L1225.4 98.2L1222.0 94.0L1213.5 91.8L1207.1 88.0L1198.5 85.4L1185.8 85.4L1173.0 84.6L1160.2 82.9L1153.8 80.3L1151.6 76.0L1153.8 71.3M1168.7 69.2L1173.0 76.9L1168.7 81.2M1192.2 73.5L1194.3 79.0L1202.8 83.3M1190.9 71.3L1202.8 69.6L1210.5 72.2L1204.9 73.5L1194.3 73.0L1190.9 71.3M1164.4 105.5L1173.0 102.5L1177.2 104.7L1187.9 108.9L1193.4 111.9L1187.9 113.2L1179.4 111.9L1170.8 114.1L1164.4 112.3L1168.7 109.8L1164.4 105.5M1181.5 115.8L1186.6 115.8L1186.2 118.3L1180.6 117.9L1181.5 115.8M1193.0 117.9L1196.4 118.3L1196.0 120.9L1193.4 120.5L1193.0 117.9M1204.9 96.1L1209.2 93.1L1215.6 94.8L1213.5 97.4L1204.9 96.1M600.1 205.9L597.6 207.6L596.3 203.8L598.8 199.5L602.7 199.5L604.0 196.5L604.4 190.5L605.7 190.1L611.6 195.2L615.5 196.5L619.7 195.2L621.0 199.5L615.9 201.2L610.8 205.0L604.0 202.5L601.4 203.8L598.8 202.9L601.0 205.0L600.1 205.9M601.0 207.2L603.1 207.6L603.5 211.4L605.7 215.3L603.5 220.8L601.4 221.3L601.0 226.4L601.0 232.0L596.7 235.4L596.3 232.4L593.7 234.1L592.0 236.7L590.7 234.9L589.5 236.7L584.3 236.7L583.5 234.9L583.9 237.9L579.2 241.4L576.2 238.4L577.5 236.7L571.6 236.7L564.7 237.9L558.3 239.2L560.5 237.5L565.6 233.2L572.4 232.8L578.8 232.8L580.1 229.8L583.5 226.4L585.6 224.3L584.3 227.3L589.5 225.5L592.9 222.6L596.3 218.3L596.3 214.0L597.1 210.2L598.8 208.5L600.6 209.7L601.0 207.2M563.0 241.8L566.0 239.6L571.6 237.5L574.1 238.4L572.4 242.2L569.4 241.4L567.3 244.8L565.2 243.5L563.0 241.8M558.8 239.6L561.7 240.9L561.7 245.2L560.5 249.5L557.5 252.0L555.3 250.7L555.3 247.8L556.6 245.6L553.6 244.8L552.8 242.6L554.5 241.4L556.2 240.9L558.8 239.6M608.7 152.1L610.8 157.2L611.2 162.3L612.1 168.3L610.8 173.9L617.2 176.4L609.9 178.6L608.2 182.0L611.6 187.1L608.7 185.0L605.7 188.4L605.7 183.7L606.1 177.7L605.7 172.6L606.5 167.0L604.8 163.2L604.4 159.8L605.2 156.3L608.7 152.1M516.1 277.7L518.7 276.4L519.9 277.7L518.7 281.9L517.8 285.8L515.7 290.5L514.4 289.6L512.7 287.1L512.3 283.6L514.8 279.4L516.1 277.7M463.6 302.4L465.8 299.9L469.2 299.0L473.0 299.0L473.4 300.7L471.3 304.1L467.5 306.7L463.6 305.4L463.6 302.4M340.8 343.4L342.5 342.6L346.3 347.7L348.9 352.0L348.5 356.3L345.9 358.4L342.1 358.8L340.4 355.0L339.9 349.4L341.2 346.0L340.8 343.4M514.4 305.4L518.7 305.9L521.2 305.4L521.6 310.6L521.2 314.4L518.7 317.0L518.7 320.8L520.4 323.8L523.8 323.4L526.3 325.1L528.9 325.9L529.3 330.6L525.9 328.9L522.9 327.6L520.4 325.5L516.1 325.9L514.4 323.8L515.7 322.1L514.0 322.5L512.3 320.8L511.4 317.0L511.0 314.8L513.1 315.7L513.5 309.7L514.4 305.4M513.1 327.2L516.5 327.2L518.2 330.6L517.0 332.3L515.2 330.2L513.1 327.2M530.2 331.1L534.4 331.1L535.7 336.2L534.0 340.5L533.2 341.7L531.9 340.9L530.6 337.9L531.0 334.9L530.2 331.1M519.9 333.6L525.1 335.3L524.2 338.7L520.4 340.0L519.9 333.6M522.1 342.2L524.6 346.0L525.9 344.3L525.5 340.0L526.8 337.9L523.8 339.6L522.1 342.2M535.3 342.6L538.3 344.7L540.0 353.3L538.3 357.5L536.1 354.6L534.9 355.4L535.7 358.8L534.9 360.5L533.6 358.8L529.8 357.5L528.9 355.0L529.8 353.3L527.2 352.4L524.6 352.8L521.6 354.6L520.4 355.0L520.8 352.0L522.9 349.9L525.9 347.7L528.0 349.4L529.8 349.4L531.9 348.1L533.2 346.0L535.3 346.0L535.3 342.6M499.9 348.6L502.5 347.3L506.3 342.2L508.9 339.6L510.1 336.2L508.9 336.6L507.6 339.6L505.0 342.6L501.6 345.6L499.9 348.6M467.5 375.9L470.9 377.2L474.3 378.5L475.2 374.2L482.0 370.8L486.2 365.7L490.5 363.1L493.1 360.5L494.8 358.8L498.2 354.6L499.9 355.4L501.6 357.1L503.7 359.2L508.4 362.2L505.9 365.2L502.9 366.5L501.6 369.1L503.3 374.6L507.6 380.2L503.3 381.0L501.6 387.0L498.2 390.0L496.9 394.7L495.6 398.1L493.9 400.3L488.8 402.0L488.4 399.0L484.5 399.0L481.1 398.1L477.7 399.0L476.4 397.3L470.0 397.3L469.2 392.1L466.6 387.9L465.8 384.5L464.5 381.0L464.9 378.5L467.5 375.9M406.5 360.5L411.2 362.2L414.6 362.2L418.0 365.7L421.0 368.2L425.7 372.1L428.2 374.6L429.9 375.5L432.5 377.2L435.9 379.3L439.3 381.9L441.9 384.5L441.0 387.9L445.3 388.7L446.2 392.1L447.9 394.3L450.4 394.7L452.1 397.3L451.3 402.4L451.7 405.8L451.3 409.2L449.1 407.9L446.2 409.2L443.2 406.7L436.3 400.7L432.5 396.4L428.2 388.7L425.7 385.3L422.7 383.2L421.4 377.2L416.7 374.2L414.6 370.8L409.9 366.9L406.9 363.5L406.5 360.5M448.7 413.5L452.1 409.7L455.5 410.5L460.2 410.9L463.2 413.1L470.9 413.9L473.0 411.8L475.6 412.6L477.7 413.9L480.7 415.2L482.0 417.3L486.2 416.9L488.0 418.6L488.8 421.6L482.8 419.9L476.0 419.9L469.2 418.2L463.6 417.3L458.9 417.3L453.8 415.6L448.7 413.5M480.7 414.4L485.8 413.9L486.7 414.4L484.1 415.2L480.7 414.4M488.4 419.1L491.4 419.1L493.5 420.3L491.4 422.0L488.4 420.3L488.4 419.1M494.3 420.3L496.5 419.5L497.8 420.8L496.9 422.5L494.8 422.0L494.3 420.3M498.2 420.3L501.6 419.1L504.6 419.9L508.0 419.5L507.6 421.6L503.3 422.5L499.0 422.9L498.2 420.3M511.4 420.3L515.2 419.9L520.4 420.3L524.2 419.1L523.8 421.2L519.5 422.5L514.4 422.0L511.4 422.0L511.4 420.3M507.6 425.0L511.4 424.2L515.2 427.2L512.7 428.5L508.4 426.3L507.6 425.0M527.2 428.5L526.8 426.3L530.6 423.8L533.6 421.6L537.4 420.8L543.0 420.3L540.0 422.9L534.9 425.0L530.6 428.0L527.2 428.5M532.3 378.0L534.0 378.0L531.0 382.3L524.6 382.3L518.2 382.3L513.1 382.3L511.8 383.6L512.3 387.9L515.2 390.4L518.7 388.3L522.5 387.9L526.3 388.3L525.5 390.9L522.1 391.3L519.1 393.0L521.2 396.4L522.1 399.0L522.9 401.5L523.8 403.7L522.1 405.0L519.9 405.0L518.2 404.1L518.2 401.5L516.1 396.0L513.1 396.8L513.5 401.5L513.1 405.8L513.5 408.4L510.1 408.4L509.3 406.2L510.1 401.5L507.1 396.0L508.4 392.6L508.9 389.6L511.0 387.9L510.6 385.3L511.4 381.9L515.2 379.8L517.8 378.9L522.1 380.2L525.5 380.6L529.8 379.3L532.3 378.0M543.8 376.8L545.5 375.1L546.4 378.5L548.9 378.5L548.5 381.0L546.4 381.9L548.9 383.6L547.2 387.0L545.5 385.7L545.5 382.7L543.8 381.0L543.8 376.8M537.4 398.1L541.3 397.7L542.5 399.0L541.3 400.7L537.9 399.8L537.4 398.1M545.5 398.1L549.8 396.8L554.1 396.8L557.9 399.0L556.2 400.3L550.2 399.4L546.0 399.4L545.5 398.1M559.6 388.3L563.0 386.6L566.9 386.2L572.0 388.3L572.4 392.1L573.3 395.6L575.4 398.5L578.4 398.5L581.8 394.3L585.2 392.1L592.0 392.6L600.1 395.1L602.7 396.0L607.8 398.1L612.9 399.8L616.3 401.1L621.9 406.7L626.1 409.2L629.6 410.5L630.4 412.6L627.0 413.1L627.9 416.1L631.7 419.1L633.4 422.5L636.8 422.9L639.4 426.3L643.2 428.5L639.8 429.7L635.1 428.0L630.8 427.6L627.9 425.0L624.9 422.5L621.9 418.6L618.0 417.3L615.1 416.5L612.5 419.5L611.2 420.8L610.8 423.3L605.7 423.8L601.4 423.3L598.8 420.8L593.7 419.1L588.6 420.3L586.9 420.3L589.9 416.1L591.6 413.5L590.3 410.1L588.2 407.5L580.1 404.1L576.7 403.2L571.6 401.1L570.3 400.3L567.3 402.0L566.0 399.8L563.0 396.8L564.3 396.8L568.1 395.1L570.7 394.7L570.7 393.9L563.9 393.9L562.6 391.7L558.8 390.4L558.3 388.3L559.6 388.3M633.0 407.9L636.8 408.4L640.6 407.9L644.1 405.8L646.6 402.4L649.2 402.4L649.6 405.4L646.6 407.9L644.1 409.7L640.6 411.4L636.8 410.5L633.0 409.2L633.0 407.9M643.2 395.6L646.6 397.3L650.0 399.8L652.6 403.2L652.6 405.0L650.9 402.4L647.5 399.0L643.6 396.8L643.2 395.6M659.8 407.5L663.3 410.1L665.0 413.5L662.0 412.2L659.8 409.2L659.8 407.5M667.5 412.6L671.8 415.2L670.9 416.1L667.5 413.9L667.5 412.6M674.8 416.5L682.0 420.3L680.7 421.2L675.2 417.8L674.8 416.5M670.9 419.5L673.9 420.8L672.2 421.6L670.9 419.5M680.7 424.2L685.9 425.5L685.0 426.7L681.2 425.9L680.7 424.2M685.0 419.9L688.4 424.6L687.1 425.9L685.4 422.0L685.0 419.9M688.0 428.0L692.7 429.7L691.0 430.6L688.4 429.3L688.0 428.0M710.6 447.2L713.2 448.5L713.2 451.1L711.0 450.7L710.6 447.2M713.2 452.8L715.7 454.5L714.4 455.4L713.2 452.8M699.5 470.3L703.8 472.0L708.0 475.0L712.3 479.3L709.7 479.7L705.1 476.7L700.4 472.5L699.5 470.3M756.2 459.6L759.2 458.4L762.2 460.5L760.1 462.6L756.7 461.8L756.2 459.6M761.4 456.2L765.2 454.5L767.8 453.7L767.3 455.4L763.5 457.1L761.4 456.2M607.8 430.2L606.5 432.3L604.8 438.3L604.0 443.8L604.0 448.5L603.1 452.8L600.6 459.2L596.3 459.6L593.7 457.1L589.5 455.8L586.9 452.8L582.6 451.9L577.9 448.1L579.7 444.3L580.1 441.3L582.6 437.0L583.9 436.6L581.8 435.3L579.2 435.7L575.8 436.6L572.4 435.7L569.0 434.9L565.6 432.7L562.6 432.7L565.2 436.1L560.9 437.0L557.9 437.4L555.3 440.0L553.6 443.4L552.8 447.7L550.2 448.1L546.8 448.5L546.0 446.8L543.4 444.3L541.3 443.4L537.4 445.1L534.0 446.8L533.2 450.2L530.6 451.5L530.6 454.5L527.2 454.5L527.2 458.8L524.6 455.4L524.2 454.5L521.2 461.3L518.7 464.8L513.5 469.0L505.9 471.2L501.6 472.5L497.8 472.5L493.1 475.9L490.5 477.1L486.7 477.6L485.0 481.0L485.4 483.6L484.5 490.8L483.7 493.8L487.1 496.8L482.8 496.4L487.1 502.8L488.8 507.5L490.5 512.6L492.2 517.7L493.5 521.1L493.5 526.3L490.5 528.0L490.9 531.4L494.8 533.5L502.9 534.4L509.3 531.4L519.9 529.3L526.8 529.3L529.8 525.4L536.6 522.9L542.5 522.0L549.8 519.9L559.6 519.0L563.9 521.1L570.3 521.6L572.4 524.6L572.4 528.0L576.7 532.3L579.7 533.1L582.2 529.7L586.1 527.1L587.8 523.3L588.2 528.0L586.5 529.7L584.3 534.8L587.8 534.4L589.0 531.0L590.7 533.5L589.0 536.5L593.7 537.0L596.3 541.7L598.8 546.8L604.0 548.5L612.1 550.2L616.8 548.1L618.0 546.4L620.6 548.5L624.4 551.5L629.6 546.8L631.3 546.4L639.8 544.6L640.6 538.2L643.2 534.4L645.3 529.3L647.5 525.0L652.2 518.6L653.4 513.9L655.2 506.6L653.4 501.5L653.4 495.5L653.9 490.0L651.7 492.1L650.0 490.4L645.3 486.1L643.2 484.4L642.4 480.1L636.4 475.0L632.1 469.9L626.1 466.5L623.6 463.9L621.9 456.6L619.7 450.7L616.3 445.1L613.4 446.0L612.5 442.5L612.1 438.3L609.5 434.0L607.8 430.2M617.2 558.3L622.7 560.0L627.0 559.2L632.1 559.2L632.5 563.9L631.3 568.1L627.0 570.3L622.7 570.3L619.7 565.6L617.6 561.3L617.2 558.3M736.6 531.4L739.6 534.0L743.4 535.2L744.7 538.2L746.0 541.7L748.6 540.4L750.3 544.2L751.5 545.1L755.0 546.4L761.4 545.5L759.2 549.8L758.8 551.9L754.5 553.2L755.4 554.0L753.3 557.0L747.7 562.2L745.6 560.9L746.9 557.9L746.4 554.9L743.9 553.6L741.3 552.3L742.6 551.0L744.7 549.3L745.6 546.8L745.1 543.8L744.3 542.5L743.0 539.9L739.6 536.1L737.9 534.0L736.6 531.4M736.6 557.5L738.3 560.4L739.2 560.4L743.4 559.6L743.4 562.6L740.9 565.6L738.3 568.6L738.3 571.6L734.9 572.0L730.6 574.1L729.4 577.1L728.1 580.5L724.2 583.1L717.8 583.5L714.9 581.8L710.6 581.8L711.9 578.0L715.7 575.0L718.3 572.4L723.4 570.3L728.9 566.9L730.2 565.6L731.5 562.6L734.1 559.2L736.6 557.5M389.0 41.4L400.1 38.4L408.6 37.6L417.1 39.7L427.4 43.6L425.7 47.4L417.1 48.3L405.2 47.0L398.4 45.3L395.0 42.3L389.0 41.4M424.0 51.7L431.6 46.1L435.1 45.7L439.3 47.0L447.9 50.0L446.2 50.8L430.8 51.7L424.0 51.7M584.3 62.8L586.9 60.2L592.0 59.4L603.1 59.4L615.9 60.7L619.3 61.9L617.6 64.1L608.2 64.9L599.7 64.9L592.0 65.8L584.3 62.8M624.4 61.9L632.1 62.8L642.4 63.6L643.2 64.9L638.1 65.4L631.3 64.9L623.6 63.2L624.4 61.9M597.1 71.3L605.7 71.8L612.5 71.8L611.6 70.5L606.5 68.8L600.6 69.2L597.1 71.3M761.8 80.7L767.8 79.0L773.7 79.0L778.0 80.3L776.3 81.6L767.8 82.0L763.1 82.0L761.8 80.7M-23.0 230.2L-26.9 228.1L-29.9 225.5L-33.7 226.4L-38.0 226.4L-37.5 222.1L-40.1 219.1L-38.4 215.3L-37.5 210.2L-37.5 205.9L-39.2 200.8L-35.0 198.2L-32.8 197.4L-24.7 198.2L-15.4 198.6L-7.7 199.1L-6.0 196.5L-5.1 192.2L-4.7 188.0L-7.7 185.4L-9.4 182.8L-11.9 181.5L-18.3 180.3L-20.0 177.7L-15.4 176.0L-11.1 176.8L-6.8 176.4L-7.7 172.6L-5.1 172.6L-0.9 173.9L1.3 172.1L6.0 170.4L6.8 167.0L11.1 166.2L14.5 164.9L17.1 162.3L20.0 158.5L22.6 156.8L29.4 156.3L34.1 155.5L37.5 154.2L37.1 150.4L35.0 147.4L34.5 143.1L36.7 140.5L40.9 139.7L45.2 138.0L44.8 140.5L43.5 142.2L46.5 143.5L43.5 145.2L41.8 147.8L40.9 149.5L42.7 151.2L46.5 152.5L46.5 153.8L51.2 153.4L53.3 151.6L58.0 151.6L58.4 153.4L61.0 154.2L66.1 152.9L70.8 151.2L76.8 150.4L79.8 152.1L84.0 152.1L85.3 149.9L89.6 148.2L90.0 144.8L89.6 141.8L92.1 138.8L96.4 138.0L99.4 141.0L102.8 141.0L104.1 136.7L104.1 135.0L100.2 134.1L99.8 131.6L104.9 130.3L110.9 129.9L119.4 130.3L124.5 128.2L128.8 128.6L122.8 125.6L115.2 126.0L106.6 127.3L98.1 128.6L95.1 126.4L90.9 124.7L91.7 120.9L90.4 117.0L92.1 114.5L96.4 111.9L104.5 108.1L108.3 106.4L107.9 104.2L102.8 103.4L95.1 103.8L91.3 106.4L91.3 108.9L87.9 111.5L82.7 113.2L78.1 115.3L74.6 117.9L73.4 120.9L73.4 125.2L79.3 127.3L81.0 129.9L75.9 132.8L71.7 134.1L71.2 138.4L70.0 142.7L67.8 144.8L62.7 144.8L60.6 147.4L55.0 147.8L53.7 144.4L52.5 141.4L50.3 138.4L47.8 134.6L46.9 132.0L45.2 129.4L43.9 131.1L40.9 132.8L35.8 135.8L29.9 136.7L24.3 134.1L23.5 131.1L21.8 127.3L21.3 123.0L21.8 119.6L27.3 117.0L33.3 114.9L37.5 112.8L42.7 110.6L46.9 107.2L52.0 103.4L55.4 100.0L61.4 96.5L64.8 93.6L69.1 91.0L75.1 88.0L81.0 85.9L87.9 85.4L93.8 83.7L99.8 82.0L109.2 80.7L118.6 81.2L123.7 82.0L132.2 84.2L127.1 85.9L132.2 86.7L138.6 86.3L143.3 88.4L153.6 89.7L162.1 92.3L170.6 94.4L175.7 97.8L175.7 100.0L171.5 101.7L163.8 102.5L153.6 101.2L144.2 99.1L139.0 97.8L142.5 100.4L148.0 102.9L148.0 108.5L153.6 111.1L160.4 111.5L162.1 109.4L157.8 106.4L164.2 107.6L170.6 108.5L172.3 105.1L178.3 100.8L187.2 102.1L188.5 100.4L186.0 97.4L187.7 92.3L185.1 91.4L195.4 92.3L198.8 94.8L194.5 98.2L198.8 98.7L203.9 95.7L211.6 94.0L222.6 91.8L229.5 90.1L232.0 92.7L238.9 91.4L249.9 90.1L256.8 87.1L258.9 89.7L264.4 86.7L275.5 89.7L283.2 91.4L291.7 93.1L294.3 90.1L287.1 86.7L284.9 82.0L288.3 76.9L293.5 73.0L299.4 72.2L308.8 73.5L310.5 78.6L307.1 82.9L309.7 89.7L313.9 94.0L308.8 98.2L301.1 100.0L307.1 101.7L314.8 98.7L319.0 94.0L318.2 90.1L313.9 87.1L315.6 81.6L312.2 78.6L319.9 73.9L330.1 76.0L324.2 80.3L334.4 81.6L332.7 77.3L343.8 74.3L345.5 70.5L358.3 69.6L369.4 68.3L371.1 64.1L384.7 61.5L400.9 60.2L420.6 58.1L430.8 56.0L444.4 52.5L453.8 54.3L458.1 57.2L477.7 57.2L485.4 60.2L482.0 64.1L467.5 67.5L478.6 69.2L482.0 68.8L486.2 70.1L506.7 70.1L507.1 72.2L525.5 72.6L526.3 70.1L540.8 70.5L548.5 74.3L551.1 78.6L559.6 82.0L564.7 78.2L570.7 79.5L578.4 78.6L586.9 79.9L596.3 79.0L593.7 75.6L599.7 73.5L637.2 76.0L641.5 78.6L651.7 81.6L669.7 81.2L681.6 83.3L682.4 86.7L692.7 87.1L699.5 86.7L715.7 87.1L723.4 90.6L728.5 89.3L726.8 85.0L740.5 86.3L749.8 85.9L761.8 88.0L767.8 89.7L780.5 93.1L787.4 97.4L789.9 98.7L798.5 98.7L804.4 101.2L811.3 102.5L807.8 105.1L800.2 105.1L799.3 108.9L787.4 108.9L776.3 105.1L770.3 105.1L771.2 102.5L766.9 106.8L761.8 108.9L756.7 108.5L760.9 111.1L763.1 114.5L765.2 117.0L756.7 117.5L744.7 120.5L727.7 128.2L726.8 128.6L720.4 125.6L708.9 129.0L707.2 127.7L702.9 129.0L697.8 128.6L696.1 131.6L691.0 135.8L691.0 137.5L696.1 138.4L695.2 144.4L691.8 144.8L690.1 148.2L691.0 150.4L684.2 152.1L682.4 157.2L676.5 158.1L674.8 162.8L668.8 166.6L662.8 147.8L664.5 141.8L668.8 137.5L675.6 136.7L683.3 131.1L690.1 126.9L697.8 123.5L701.2 117.0L696.1 117.5L693.5 121.3L683.3 125.6L679.9 120.5L668.8 122.2L657.7 129.0L661.1 131.6L651.7 132.8L645.8 133.3L644.9 130.3L638.9 129.4L633.8 131.6L620.2 131.1L606.5 132.4L592.0 140.5L576.7 150.4L583.5 151.2L585.2 153.8L589.5 154.6L592.0 152.9L596.3 152.9L603.1 157.6L603.1 161.5L599.7 165.7L598.8 170.9L597.1 177.7L591.2 183.7L589.5 186.7L583.5 191.8L578.4 196.5L575.0 199.1L569.8 201.6L563.9 199.5L557.9 204.2L553.6 206.8L552.8 209.7L544.3 214.4L543.4 217.0L547.7 219.6L551.9 226.4L551.9 232.4L546.8 235.4L539.1 237.5L540.0 232.4L538.3 227.3L540.8 224.7L538.3 223.4L534.9 223.4L532.3 221.3L534.9 216.1L529.8 214.0L523.8 215.3L517.8 217.9L518.7 216.1L521.2 211.9L517.8 209.7L510.1 214.0L503.3 217.0L501.6 219.6L506.7 224.7L511.0 225.5L515.2 223.0L522.1 224.7L522.9 226.8L516.1 228.1L510.1 232.4L508.4 235.4L512.7 237.5L514.4 241.8L517.0 245.6L519.5 248.2L519.5 252.5L517.0 253.7L520.4 257.2L518.7 264.0L516.1 264.4L510.1 274.2L505.9 279.4L494.8 287.1L489.7 287.9L487.1 289.6L482.8 290.5L476.9 292.2L472.6 293.0L470.9 297.3L467.5 294.7L468.3 293.0L463.2 291.8L456.4 291.3L454.7 296.0L450.4 303.3L453.8 307.6L458.1 313.1L461.5 315.7L464.1 319.1L466.6 327.2L465.8 334.9L462.4 337.5L453.8 341.7L448.7 347.7L447.0 345.2L447.9 342.2L445.3 340.0L441.0 339.2L437.6 332.3L433.4 330.6L429.9 330.6L430.8 327.2L426.5 327.2L426.5 331.9L424.0 338.3L423.1 345.2L426.5 345.2L428.2 349.0L428.2 352.8L430.8 355.4L435.9 358.0L436.8 360.5L441.0 363.9L441.0 369.9L443.6 374.2L444.4 378.5L441.9 379.3L437.6 376.3L432.5 372.5L429.1 367.8L427.4 361.8L427.4 356.3L424.8 355.4L419.7 349.4L419.7 346.0L420.6 341.7L420.6 334.9L420.6 328.9L417.1 321.2L416.3 315.3L414.6 312.3L406.9 317.0L401.8 316.1L403.5 311.0L402.6 306.7L399.2 300.7L396.7 299.0L394.1 296.5L392.4 292.2L391.6 289.6L389.8 287.1L385.6 287.1L384.7 291.3L379.6 290.5L371.1 293.0L369.4 298.2L362.6 301.6L357.4 306.7L350.6 311.8L342.9 317.0L341.2 319.5L342.1 325.5L342.1 333.2L340.4 340.0L337.8 340.9L336.1 345.2L332.7 348.6L330.1 350.3L326.7 346.9L325.0 341.7L321.6 334.0L319.0 329.8L317.3 322.1L313.9 316.1L311.4 308.4L310.5 302.4L310.5 297.3L309.7 293.5L303.7 295.6L300.3 295.2L295.2 290.5L296.9 288.8L296.0 287.1L290.9 283.6L287.5 281.9L283.2 276.0L275.5 276.8L262.7 276.8L254.2 276.0L244.8 274.2L243.1 269.5L240.6 268.3L238.0 270.0L233.7 271.3L227.8 270.0L223.5 266.6L220.1 265.7L216.7 261.4L214.1 255.4L211.6 256.3L208.6 254.6L206.4 258.0L203.9 256.7L205.6 260.6L208.1 266.6L214.1 270.8L214.1 275.1L216.7 278.5L217.5 273.4L220.1 274.2L219.2 279.4L220.9 281.9L224.4 281.1L230.3 281.1L236.3 276.0L240.6 271.7L240.6 278.1L242.3 281.1L250.8 283.6L255.1 288.8L253.4 292.2L250.8 297.3L246.5 298.2L245.7 303.3L241.4 305.0L235.4 309.3L226.9 313.5L222.6 317.8L211.6 321.7L207.3 324.6L202.2 326.4L193.6 328.9L186.0 330.6L184.3 328.1L182.6 321.2L181.7 314.4L180.0 310.1L175.7 305.0L171.5 298.2L167.2 293.0L163.8 283.6L159.5 279.4L156.1 273.4L151.8 267.4L149.3 264.8L148.4 258.9L145.9 265.7L142.5 262.3L139.0 257.2M1512.5 230.2L1508.6 228.1L1505.7 225.5L1501.8 226.4L1497.5 226.4L1498.0 222.1L1495.4 219.1L1497.1 215.3L1498.0 210.2L1498.0 205.9L1496.3 200.8L1500.5 198.2L1502.7 197.4L1510.8 198.2L1520.2 198.6L1527.8 199.1L1529.5 196.5L1530.4 192.2L1530.8 188.0L1527.8 185.4L1526.1 182.8L1523.6 181.5L1517.2 180.3L1515.5 177.7L1520.2 176.0L1524.4 176.8L1528.7 176.4L1527.8 172.6L1530.4 172.6L1534.7 173.9L1536.8 172.1L1541.5 170.4L1542.3 167.0L1546.6 166.2L1550.0 164.9L1552.6 162.3L1555.6 158.5L1558.1 156.8L1564.9 156.3L1569.6 155.5L1573.0 154.2L1572.6 150.4L1570.5 147.4L1570.1 143.1L1572.2 140.5L1576.5 139.7L1580.7 138.0L1580.3 140.5L1579.0 142.2L1582.0 143.5L1579.0 145.2L1577.3 147.8L1576.5 149.5L1578.2 151.2L1582.0 152.5L1582.0 153.8L1586.7 153.4L1588.8 151.6L1593.5 151.6L1593.9 153.4L1596.5 154.2L1601.6 152.9L1606.3 151.2L1612.3 150.4L1615.3 152.1L1619.5 152.1L1620.8 149.9L1625.1 148.2L1625.5 144.8L1625.1 141.8L1627.6 138.8L1631.9 138.0L1634.9 141.0L1638.3 141.0L1639.6 136.7L1639.6 135.0L1635.7 134.1L1635.3 131.6L1640.4 130.3L1646.4 129.9L1654.9 130.3L1660.1 128.2L1664.3 128.6L1658.3 125.6L1650.7 126.0L1642.1 127.3L1633.6 128.6L1630.6 126.4L1626.4 124.7L1627.2 120.9L1625.9 117.0L1627.6 114.5L1631.9 111.9L1640.0 108.1L1643.8 106.4L1643.4 104.2L1638.3 103.4L1630.6 103.8L1626.8 106.4L1626.8 108.9L1623.4 111.5L1618.3 113.2L1613.6 115.3L1610.2 117.9L1608.9 120.9L1608.9 125.2L1614.8 127.3L1616.5 129.9L1611.4 132.8L1607.2 134.1L1606.7 138.4L1605.5 142.7L1603.3 144.8L1598.2 144.8L1596.1 147.4L1590.5 147.8L1589.3 144.4L1588.0 141.4L1585.8 138.4L1583.3 134.6L1582.4 132.0L1580.7 129.4L1579.4 131.1L1576.5 132.8L1571.3 135.8L1565.4 136.7L1559.8 134.1L1559.0 131.1L1557.3 127.3L1556.8 123.0L1557.3 119.6L1562.8 117.0L1568.8 114.9L1573.0 112.8L1578.2 110.6L1582.4 107.2L1587.5 103.4L1591.0 100.0L1596.9 96.5L1600.3 93.6L1604.6 91.0L1610.6 88.0L1616.5 85.9L1623.4 85.4L1629.3 83.7L1635.3 82.0L1644.7 80.7L1654.1 81.2L1659.2 82.0L1667.7 84.2L1662.6 85.9L1667.7 86.7L1674.1 86.3L1678.8 88.4L1689.1 89.7L1697.6 92.3L1706.1 94.4L1711.2 97.8L1711.2 100.0L1707.0 101.7L1699.3 102.5L1689.1 101.2L1679.7 99.1L1674.6 97.8L1678.0 100.4L1683.5 102.9L1683.5 108.5L1689.1 111.1L1695.9 111.5L1697.6 109.4L1693.3 106.4L1699.7 107.6L1706.1 108.5L1707.8 105.1L1713.8 100.8L1722.8 102.1L1724.0 100.4L1721.5 97.4L1723.2 92.3L1720.6 91.4L1730.9 92.3L1734.3 94.8L1730.0 98.2L1734.3 98.7L1739.4 95.7L1747.1 94.0L1758.2 91.8L1765.0 90.1L1767.5 92.7L1774.4 91.4L1785.5 90.1L1792.3 87.1L1794.4 89.7L1800.0 86.7L1811.0 89.7L1818.7 91.4L1827.3 93.1L1829.8 90.1L1822.6 86.7L1820.4 82.0L1823.8 76.9L1829.0 73.0L1834.9 72.2L1844.3 73.5L1846.0 78.6L1842.6 82.9L1845.2 89.7L1849.4 94.0L1844.3 98.2L1836.6 100.0L1842.6 101.7L1850.3 98.7L1854.6 94.0L1853.7 90.1L1849.4 87.1L1851.1 81.6L1847.7 78.6L1855.4 73.9L1865.6 76.0L1859.7 80.3L1869.9 81.6L1868.2 77.3L1879.3 74.3L1881.0 70.5L1893.8 69.6L1904.9 68.3L1906.6 64.1L1920.2 61.5L1936.4 60.2L1956.1 58.1L1966.3 56.0L1980.0 52.5L1989.3 54.3L1993.6 57.2L2013.2 57.2L2020.9 60.2L2017.5 64.1L2003.0 67.5L2014.1 69.2L2017.5 68.8L2021.8 70.1L2042.2 70.1L2042.7 72.2L2061.0 72.6L2061.8 70.1L2076.3 70.5L2084.0 74.3L2086.6 78.6L2095.1 82.0L2100.2 78.2L2106.2 79.5L2113.9 78.6L2122.4 79.9L2131.8 79.0L2129.2 75.6L2135.2 73.5L2172.7 76.0L2177.0 78.6L2187.2 81.6L2205.2 81.2L2217.1 83.3L2218.0 86.7L2228.2 87.1L2235.0 86.7L2251.2 87.1L2258.9 90.6L2264.0 89.3L2262.3 85.0L2276.0 86.3L2285.3 85.9L2297.3 88.0L2303.3 89.7L2316.1 93.1L2322.9 97.4L2325.4 98.7L2334.0 98.7L2339.9 101.2L2346.8 102.5L2343.4 105.1L2335.7 105.1L2334.8 108.9L2322.9 108.9L2311.8 105.1L2305.8 105.1L2306.7 102.5L2302.4 106.8L2297.3 108.9L2292.2 108.5L2296.4 111.1L2298.6 114.5L2300.7 117.0L2292.2 117.5L2280.2 120.5L2263.2 128.2L2262.3 128.6L2255.9 125.6L2244.4 129.0L2242.7 127.7L2238.4 129.0L2233.3 128.6L2231.6 131.6L2226.5 135.8L2226.5 137.5L2231.6 138.4L2230.8 144.4L2227.3 144.8L2225.6 148.2L2226.5 150.4L2219.7 152.1L2218.0 157.2L2212.0 158.1L2210.3 162.8L2204.3 166.6L2198.3 147.8L2200.0 141.8L2204.3 137.5L2211.1 136.7L2218.8 131.1L2225.6 126.9L2233.3 123.5L2236.7 117.0L2231.6 117.5L2229.0 121.3L2218.8 125.6L2215.4 120.5L2204.3 122.2L2193.2 129.0L2196.6 131.6L2187.2 132.8L2181.3 133.3L2180.4 130.3L2174.4 129.4L2169.3 131.6L2155.7 131.1L2142.0 132.4L2127.5 140.5L2112.2 150.4L2119.0 151.2L2120.7 153.8L2125.0 154.6L2127.5 152.9L2131.8 152.9L2138.6 157.6L2138.6 161.5L2135.2 165.7L2134.4 170.9L2132.7 177.7L2126.7 183.7L2125.0 186.7L2119.0 191.8L2113.9 196.5L2110.5 199.1L2105.4 201.6L2099.4 199.5L2093.4 204.2L2089.1 206.8L2088.3 209.7L2079.8 214.4L2078.9 217.0L2083.2 219.6L2087.4 226.4L2087.4 232.4L2082.3 235.4L2074.6 237.5L2075.5 232.4L2073.8 227.3L2076.3 224.7L2073.8 223.4L2070.4 223.4L2067.8 221.3L2070.4 216.1L2065.3 214.0L2059.3 215.3L2053.3 217.9L2054.2 216.1L2056.7 211.9L2053.3 209.7L2045.6 214.0L2038.8 217.0L2037.1 219.6L2042.2 224.7L2046.5 225.5L2050.8 223.0L2057.6 224.7L2058.4 226.8L2051.6 228.1L2045.6 232.4L2043.9 235.4L2048.2 237.5L2049.9 241.8L2052.5 245.6L2055.0 248.2L2055.0 252.5L2052.5 253.7L2055.9 257.2L2054.2 264.0L2051.6 264.4L2045.6 274.2L2041.4 279.4L2030.3 287.1L2025.2 287.9L2022.6 289.6L2018.3 290.5L2012.4 292.2L2008.1 293.0L2006.4 297.3L2003.0 294.7L2003.8 293.0L1998.7 291.8L1991.9 291.3L1990.2 296.0L1985.9 303.3L1989.3 307.6L1993.6 313.1L1997.0 315.7L1999.6 319.1L2002.1 327.2L2001.3 334.9L1997.9 337.5L1989.3 341.7L1984.2 347.7L1982.5 345.2L1983.4 342.2L1980.8 340.0L1976.5 339.2L1973.1 332.3L1968.9 330.6L1965.5 330.6L1966.3 327.2L1962.0 327.2L1962.0 331.9L1959.5 338.3L1958.6 345.2L1962.0 345.2L1963.7 349.0L1963.7 352.8L1966.3 355.4L1971.4 358.0L1972.3 360.5L1976.5 363.9L1976.5 369.9L1979.1 374.2L1980.0 378.5L1977.4 379.3L1973.1 376.3L1968.0 372.5L1964.6 367.8L1962.9 361.8L1962.9 356.3L1960.3 355.4L1955.2 349.4L1955.2 346.0L1956.1 341.7L1956.1 334.9L1956.1 328.9L1952.7 321.2L1951.8 315.3L1950.1 312.3L1942.4 317.0L1937.3 316.1L1939.0 311.0L1938.2 306.7L1934.7 300.7L1932.2 299.0L1929.6 296.5L1927.9 292.2L1927.1 289.6L1925.4 287.1L1921.1 287.1L1920.2 291.3L1915.1 290.5L1906.6 293.0L1904.9 298.2L1898.1 301.6L1892.9 306.7L1886.1 311.8L1878.4 317.0L1876.7 319.5L1877.6 325.5L1877.6 333.2L1875.9 340.0L1873.3 340.9L1871.6 345.2L1868.2 348.6L1865.6 350.3L1862.2 346.9L1860.5 341.7L1857.1 334.0L1854.6 329.8L1852.8 322.1L1849.4 316.1L1846.9 308.4L1846.0 302.4L1846.0 297.3L1845.2 293.5L1839.2 295.6L1835.8 295.2L1830.7 290.5L1832.4 288.8L1831.5 287.1L1826.4 283.6L1823.0 281.9L1818.7 276.0L1811.0 276.8L1798.3 276.8L1789.7 276.0L1780.3 274.2L1778.6 269.5L1776.1 268.3L1773.5 270.0L1769.2 271.3L1763.3 270.0L1759.0 266.6L1755.6 265.7L1752.2 261.4L1749.6 255.4L1747.1 256.3L1744.1 254.6L1741.9 258.0L1739.4 256.7L1741.1 260.6L1743.7 266.6L1749.6 270.8L1749.6 275.1L1752.2 278.5L1753.0 273.4L1755.6 274.2L1754.7 279.4L1756.5 281.9L1759.9 281.1L1765.8 281.1L1771.8 276.0L1776.1 271.7L1776.1 278.1L1777.8 281.1L1786.3 283.6L1790.6 288.8L1788.9 292.2L1786.3 297.3L1782.0 298.2L1781.2 303.3L1776.9 305.0L1771.0 309.3L1762.4 313.5L1758.2 317.8L1747.1 321.7L1742.8 324.6L1737.7 326.4L1729.2 328.9L1721.5 330.6L1719.8 328.1L1718.1 321.2L1717.2 314.4L1715.5 310.1L1711.2 305.0L1707.0 298.2L1702.7 293.0L1699.3 283.6L1695.0 279.4L1691.6 273.4L1687.4 267.4L1684.8 264.8L1683.9 258.9L1681.4 265.7L1678.0 262.3L1674.6 257.2M-23.0 230.2L-18.8 227.7L-9.4 227.3L-3.0 223.8L0.4 218.7L-1.3 215.7L3.4 210.2L9.4 207.6L13.6 203.8L12.8 199.9L18.8 199.1L25.6 200.3L31.6 197.8L37.5 194.8L43.5 196.9L44.8 201.2L50.3 204.6L54.6 208.0L59.7 210.2L65.7 213.6L68.2 217.9L67.0 222.1L69.1 222.6L72.9 217.9L70.8 214.9L72.9 211.4L76.8 213.6L78.9 214.0L78.5 211.9L74.2 209.7L68.2 206.8L68.2 205.5L64.0 205.5L59.7 202.1L58.0 198.2L52.9 195.2L52.9 190.9L56.3 189.2L58.9 189.7L58.4 192.7L61.4 190.9L64.8 195.6L70.0 198.6L75.1 201.2L79.3 203.3L82.7 205.9L82.7 211.9L86.2 216.1L89.6 218.7L90.4 220.8L91.3 224.7L93.0 227.3L96.4 228.5L98.5 228.5L97.2 224.3L99.8 223.8L102.4 223.4L102.4 221.3L97.7 217.9L98.1 214.0L96.8 211.9L99.8 212.3L101.5 214.0L104.1 212.7L102.4 210.2L107.5 209.3L111.8 210.2L111.8 212.3L113.5 212.3L117.7 209.7L123.7 209.3L125.4 210.2L119.4 211.9L114.3 211.9L111.8 213.6L111.8 216.1L114.3 218.3L112.6 220.8L116.0 224.7L116.9 227.3L121.1 227.7L126.3 229.8L130.5 227.3L133.9 227.7L139.0 230.2L145.0 229.4L148.4 227.3L152.7 227.7L153.6 230.7L152.7 234.9L151.0 240.1L149.3 244.3L147.6 249.5L145.9 250.7M1512.5 230.2L1516.7 227.7L1526.1 227.3L1532.5 223.8L1535.9 218.7L1534.2 215.7L1538.9 210.2L1544.9 207.6L1549.2 203.8L1548.3 199.9L1554.3 199.1L1561.1 200.3L1567.1 197.8L1573.0 194.8L1579.0 196.9L1580.3 201.2L1585.8 204.6L1590.1 208.0L1595.2 210.2L1601.2 213.6L1603.8 217.9L1602.5 222.1L1604.6 222.6L1608.4 217.9L1606.3 214.9L1608.4 211.4L1612.3 213.6L1614.4 214.0L1614.0 211.9L1609.7 209.7L1603.8 206.8L1603.8 205.5L1599.5 205.5L1595.2 202.1L1593.5 198.2L1588.4 195.2L1588.4 190.9L1591.8 189.2L1594.4 189.7L1593.9 192.7L1596.9 190.9L1600.3 195.6L1605.5 198.6L1610.6 201.2L1614.8 203.3L1618.3 205.9L1618.3 211.9L1621.7 216.1L1625.1 218.7L1625.9 220.8L1626.8 224.7L1628.5 227.3L1631.9 228.5L1634.0 228.5L1632.8 224.3L1635.3 223.8L1637.9 223.4L1637.9 221.3L1633.2 217.9L1633.6 214.0L1632.3 211.9L1635.3 212.3L1637.0 214.0L1639.6 212.7L1637.9 210.2L1643.0 209.3L1647.3 210.2L1647.3 212.3L1649.0 212.3L1653.2 209.7L1659.2 209.3L1660.9 210.2L1654.9 211.9L1649.8 211.9L1647.3 213.6L1647.3 216.1L1649.8 218.3L1648.1 220.8L1651.5 224.7L1652.4 227.3L1656.6 227.7L1661.8 229.8L1666.0 227.3L1669.4 227.7L1674.6 230.2L1680.5 229.4L1683.9 227.3L1688.2 227.7L1689.1 230.7L1688.2 234.9L1686.5 240.1L1684.8 244.3L1683.1 249.5L1681.4 250.7M123.7 208.5L119.4 205.5L118.6 202.5L119.4 199.1L122.0 197.4L122.0 193.9L126.3 191.4L130.5 186.2L135.6 185.4L138.2 187.5L142.5 187.5L139.0 190.5L142.5 193.9L145.9 194.4L150.1 192.2L155.3 190.9L150.1 188.0L149.3 186.2L157.0 184.5L162.9 182.8L167.2 182.8L162.9 186.2L160.4 188.0L161.2 190.5L157.0 191.4L159.5 193.5L164.6 195.2L169.8 198.6L176.6 202.5L177.4 206.8L172.3 209.3L163.8 209.7L157.0 208.0L150.1 205.0L142.5 205.0L135.6 207.6L128.8 208.5L123.7 208.5M200.5 192.7L199.2 194.8L202.2 198.2L203.0 201.2L207.3 205.9L209.9 208.5L211.6 211.0L215.0 212.3L210.7 215.3L209.0 218.7L209.0 223.0L214.1 225.1L217.5 227.3L223.5 227.7L229.5 226.8L229.9 224.7L229.5 218.7L226.9 217.0L227.8 213.6L225.2 213.6L225.2 208.9L224.4 206.3L229.5 204.2L224.4 201.6L219.2 199.9L216.7 195.6L215.0 194.8L218.4 193.9L219.2 190.9L226.1 190.9L226.9 187.1L226.1 184.1L218.4 183.7L209.9 186.2L207.3 188.8L203.0 189.7L200.5 192.7" fill="none" stroke="#000" stroke-width="3.9" stroke-linejoin="round" stroke-linecap="round"/>
<g id="field"><path fill="#ecf8e8" fill-rule="evenodd" d="M1482 571l34 -3 6 -4 0 -4 3 -8 -1 -5 -6 -4 -14 -5 -27 -16 -32 -14 -6 -5 -4 -8 -4 -4 -23 -13 -11 -7 -3 -12 0 -4 12 -12 6 -12 6 -8 3 -12 5 -4 19 -4 21 0 38 -3 21 0 5 2 0 -56 -5 0 -5 -2 -15 -10 -7 -3 -5 0 -11 2 -9 5 -12 10 -11 4 -17 2 -73 5 -11 -1 -11 -4 -10 -5 -19 -7 -13 -7 -11 -5 -21 -2 -22 0 -10 -2 -7 -4 -9 -10 -6 -1 -16 5 -10 1 -16 1 -6 -1 -16 -8 -16 -3 -8 -8 -8 -3 -5 0 -5 2 -5 5 0 4 5 5 5 2 11 0 2 1 3 4 3 8 -1 4 -50 4 -48 0 -43 -2 -32 -6 -37 2 -11 -2 -26 -10 -64 3 -6 -2 -4 -3 0 -4 14 -12 3 -4 0 -4 -3 -4 -15 -7 -11 -9 -13 -4 -2 -8 3 -12 -14 -15 -6 -2 -5 -1 -11 3 -16 9 -5 0 -21 -6 -16 2 -27 -4 -27 -1 -32 3 -56 16 -18 2 -37 11 -11 2 -48 2 -11 -8 -10 -1 -11 2 -30 18 -1 4 4 4 6 2 16 3 4 3 5 16 0 4 -4 7 -21 18 -16 6 -16 2 -27 4 -27 2 -21 6 -16 1 -5 2 -8 8 -8 4 -10 0 -6 -2 -2 -2 -3 -8 -33 -15 -5 -3 -12 -14 -4 -2 -5 -2 -6 1 -10 9 -6 3 -32 -5 -16 -1 -48 3 -37 7 0 66 21 4 26 10 12 7 21 16 16 7 10 6 10 12 10 8 13 4 21 4 3 4 4 16 4 12 -3 4 -8 2 -53 4 -32 9 -21 9 -4 5 3 2 5 2 22 0 27 5 16 2 26 -2 43 -6 11 1 26 6 11 0 16 -1 59 -14 8 -4 3 -4 1 -4 -1 -4 -6 -8 -6 -16 9 -16 -3 -12 3 -8 11 -12 7 -3 11 -1 43 2 53 -5 11 -2 16 -6 21 -5 16 -7 5 -1 13 4 14 9 5 2 21 4 27 -3 5 1 12 7 15 4 16 6 27 6 21 3 18 9 18 12 28 12 37 4 38 17 32 11 42 10 16 6 27 2 48 8 59 -2 14 -3 12 -6 20 -19 2 -8 -4 -4 -12 -5 -6 -4 -2 -3 -1 -8 -5 -8 -2 -7 -6 -5 -3 -4 4 -8 0 -4 -17 -16 -10 -5 -9 -11 4 -4 15 -3 54 -4 37 -6 16 -4 27 -9 10 1 11 4 11 7 5 6 -1 4 -8 12 -1 4 1 8 4 4 5 2 11 2 16 9 24 3 13 5 19 11 25 24 9 6 11 4 11 2 5 3 4 5 6 4 38 19 27 10zM1253 292l5 0 7 -2 14 -8 7 -8 10 -2 8 2 5 8 3 1 10 1 16 -2 11 -6 7 -6 8 -12 18 -16 3 -4 0 -5 -9 -15 -6 -6 -5 -3 -11 -2 -26 1 -19 5 -19 3 -11 5 -10 9 -5 0 -11 -5 -5 -1 -22 1 -21 6 -12 7 -3 4 -2 4 2 8 6 8 -2 8 1 4 5 3 2 1 24 1 16 3 6 4 1 4z"/>
<path fill="#e4f5df" fill-rule="evenodd" d="M991.7 533l5.3 0.5 10.8 -2.1 7 -4 3.2 -4.1 0.1 -4 -3.2 -4 -14 -8.1 1.1 -16.1 -1.8 -4 -3.2 -2.4 -21.3 -6.8 -16 -1.7 -32 -6.8 -16 -1.9 -21.3 -6.4 -21.3 0 -20 -6.2 -6.4 -4 -6.4 -8.1 -1.6 -4 1.2 -8.1 3.4 -4 17.5 -8 10.1 -4.1 7.5 -1.2 21.3 0 26.7 2.8 32 0.5 53.3 -3.7 21.3 3.5 10.7 0.1 32 -2 12.8 -4 5.8 -4 -0.9 -4 -4.6 -4.1 -13.1 -4.3 -53.4 -1.7 -31.9 -3.1 -32 0.9 -13.7 -3.8 1.3 -4.1 28.4 -7.9 16 0.5 34 -4.6 29.9 -2.1 53.3 8.7 51.3 5.4 55.4 14.1 8.8 6.1 12.5 13.2 4.1 6.9 -1.4 4 -13.4 6.9 -3.9 5.2 -1.3 8.1 3.2 4 2 1.2 5.4 0.1 16 -9.2 7.7 7.9 2.9 1.4 21.4 1.1 7.3 -2.5 2.5 -4 5.6 -4.1 5.9 -1.1 16 0.6 16 -1.5 26.6 1 5.9 -3 4.8 -11 10.8 -13.2 25.6 -12 27.6 -9.2 21.3 -3.3 26.7 1.2 53.3 -1.4 0 -36.2 -16 -1.7 -21.3 -9.4 -5.4 -0.3 -7.3 3.9 -3.3 8.2 -5.4 3.9 -5.3 1.2 -53.3 3.5 -21.3 2.5 -37.4 0.7 -24.6 -3.9 -28.7 -8.6 -42.6 -10.6 -26.7 1.2 -5.3 -1.1 -10.7 -7.1 -5.3 -1.2 -16 4.3 -7.1 -1 -19.6 -6.1 -5.3 0.4 -9.1 5.7 -6.9 1.2 -90.6 2.1 -10.7 1.4 -16 5.4 -5.3 0.4 -16 -6.5 -26.7 -0.3 -26.6 -3.4 -53.4 2.6 -15 5.1 -6.3 0.9 -53.3 1.9 -21.3 -0.4 -37.3 -5.8 -26.7 -6.4 -16 -1.1 -10.7 0.8 -37.3 10 -10.6 0.5 -10.7 -2.9 -16 -9.2 -5.3 -1.6 -5.4 0.1 -16 3.4 -5.3 -2 -6 -12.3 -0.9 -4.1 5.7 -12 6.1 -4.1 5.8 -1.3 5.3 0.6 10.7 3.7 10.6 -0.6 11 -2.4 -0.8 -4 -3.8 -4 -8.3 -4.1 -8.7 -2 -37.4 -2.4 -16 -2.7 -10.6 1.5 -8.4 5.6 -12.9 15.8 -11 8.4 -14.3 20.1 -6.6 4.1 -10.8 4.6 -26.7 -0.2 -5.9 -4.4 0.6 -12.1 -0.9 -4 -5.1 -8.1 -16.5 -12.1 -4.1 -8 -5.4 -5.7 -5.3 -2.4 -10.7 -0.8 -5.3 1.2 -5.6 3.6 -2.6 8.1 2.8 16.1 -1.1 4 -14.9 16.1 -4.7 8.1 -2.5 8 -1.9 20.2 1.6 8 -3.1 1.3 -21.3 0.1 -5.3 1.7 -15.2 9 -14.7 4 -23.5 1 -26.6 -4.2 -10.7 0.1 -17.5 7.1 -30.5 5.6 -10.6 4.6 -14.1 10 -9.2 16.1 -0.7 4 3 8.1 -4.5 16.1 -0.3 24.1 -2.9 12.1 0.3 4 2.7 4 4.3 2.5 21.4 4.4 10.6 -0.3 13 -2.5 17 -8.1 3.2 -4 -7.9 -16.1 -0.9 -16.1 2.3 -5.3 5.3 -5.9 16 -7.3 10.7 -1.5 21.3 0.8 42.7 -6.9 47.9 4 48 -2.4 12.1 -3.7 25.2 -13.2 9 -6.9 7 -1.9 21.4 3.3 21.3 0.7 26.7 6.9 79.9 8.8 5.4 1.6 16 9.6 49.4 15.3 14.5 9.8 16 5.7 16 7.9 26.7 4.6 51.5 24.3 12.5 4.1 10.6 1.1 16 -1.1 42.7 11.2 32 0.1 21.3 -3.5zM450.1 394.5l-2.2 -4 2.5 -4 2.8 -2.8 5.3 1.6 1.8 5.2 -0.1 4 -1.7 1.2 -5.3 0.2zM133.3 451.6l10.7 1.9 7 -2.6 3.8 -4 0.7 -4.1 -11.1 -16.1 -1.7 -8 0.9 -4.1 6.9 -8 10.2 -16.1 1.7 -4 -2 -8.1 0.9 -4 7.4 -16.1 0.6 -8.1 -1.8 -8 -7.6 -9.5 -5.3 -1.8 -5.3 1.5 -7.8 9.8 -2.9 8.1 -5.3 0.7 -21.3 -3.8 -26.7 -0.9 -16 0.9 -26.6 -3 -10.7 1.2 -18.8 4.8 -13.2 1.3 0 42.5 23.6 4.5 24.4 9.8 26.6 5.5 16 10.6 16 2.2 10.7 7 8.1 13.3zM1125 410.9l6.6 -0.3 7.3 -4 -5.2 -4 -8.7 0.2 -6.2 3.8zM1141 327.4l5.3 1.6 5.3 0 3.5 -2.9 0.3 -4 -2.2 -4.1 -6.9 -5.1 -10.7 -2 -4.7 3.1 0.1 4 2.4 4.1zM1109 308l5.3 0 3.1 -2 -0.1 -4.1 -3 -2.1 -5.3 0.1 -2.9 2 -0.1 4.1zM389.2 280.6l5.3 -1.2 8.5 -5.7 7.5 -3 4.3 -5 -4.3 -2.9 -5.3 0.2 -7 2.7 -4.1 4 -1.5 4 -5.7 4.1zM1322.2 250.3l5.4 0.8 15.8 -5.5 4.4 -4.1 -1.2 -4 -8.4 -1.5 -16.2 1.5 -5.6 4 0.5 4.1z"/>
<path fill="#d7efd1" fill-rule="evenodd" d="M901 512.5l10.7 0.6 10.7 -1.1 3.2 -0.7 4.3 -4.1 -4.3 -4 -8.6 -1.9 -10.6 -0.6 -5.4 0.4 -8.3 2.1 -1.5 4 5.8 4.1zM863.7 508.1l5.4 -0.3 5.3 -1.5 4.9 -3.1 -1.1 -4 -4.7 -4 -15.1 -4.2 -5.3 -0.6 -2.2 0.7 -3.2 2.9 -0.6 1.2 4.8 8 6.5 4zM218.6 495.4l5.3 -2.7 7.3 -9.6 2.2 -4 0.1 -4.1 -4.2 -10.1 -5.4 -2.9 -5.3 0 -5.3 1.6 -5.4 3.3 -2.7 4.1 -1.3 4 -0.4 8.1 0.7 4 2.3 4 1.4 1.5 5.4 2.4zM810.4 488.7l5.3 1.7 5.4 0.5 5.3 -1.3 12.2 -6.5 14.5 -3.9 0.4 -4.2 -21.8 -8.1 -16 -2.4 -5.3 -3.4 -4 -6.2 -17 -8 -4.2 -4.1 -0.5 -4 2.4 -8.1 -0.2 -4 5.8 -4 23 -1.3 42 -10.8 13.4 -4 9.5 -4 1.8 -4.1 -34.7 -6.8 -2.6 -1.2 -3.6 -4 1.2 -4.1 7.7 -4 8 -2.2 26.6 -3.5 10.7 -0.5 37.3 1.8 10.7 -0.7 21.3 -5.6 21.4 -1.9 20.2 -3.5 4 -4 -3.4 -4 -4.9 -3.2 -5.3 -1.6 -42.6 -5.2 -48 2.8 -16 4.4 -10.7 1.2 -85.3 1 -26.6 -3 -16 -3.3 -10.7 -0.8 -69.3 5.4 -10.7 0 -26.6 -5.7 -21.4 1.1 -9.7 -1.2 -7.1 -4 -4.5 -4.8 -5.3 -3.6 -5.4 -1.2 -15.9 0.9 -16 -1.3 -5.4 1.5 -16.8 8.5 -5.9 4 -9.3 9.9 -5.3 2.3 -5.3 -0.1 -10.7 -2.3 -5.3 0.1 -16 4.1 -5.3 -1.9 -2.7 -12.1 0.2 -4 4.3 -12.1 0.1 -4 -1.5 -4 -5.8 -7.5 -15.3 -8.6 -6 -8.5 -5.3 -3.1 -5.4 0.7 -2.3 2.8 -0.8 4 2.8 8.1 0.3 4 -3.1 8.1 -3.6 4 -9.3 6.9 -5 5.2 -2.5 4 -1.3 4 -1 8.1 0.3 4 1.3 4 5 8.1 3.5 8 0.6 12.1 -2.5 4 -9 3.9 -5.4 0.8 -26.6 -0.4 -48 4.5 -26.7 -0.9 -42.6 5.6 -9.7 2.6 -8.9 4 -8.1 7.7 -10.6 6 -2.7 2.4 -1.7 4.1 2.1 4 2.3 1.9 5.3 1.9 21.3 1.6 10.7 -1.5 16 -4.1 37.3 -0.4 37.3 -5.1 5.4 0.2 16 2.9 21.3 0.7 16 1.9 26.6 -0.7 10.7 -1.6 4.8 -1.7 11.2 -6.2 16 -6.9 4.5 -3 3.3 -4.1 1 -4 1.8 -2.1 5.4 -0.3 10.6 1 16 4.9 5.4 0.8 5.3 0.1 16 -3.2 5.3 -0.3 5.4 0.7 16 7.3 31.9 6.7 16 1.4 16 0.1 21.4 -3.6 5.3 0.1 12.4 2.5 11.6 4 7.2 4.1 15.6 12.1 6.5 3.5 5.3 1.6 21.4 3.6 5.3 2.6 13.5 8.8 13.2 4.8 26.6 4.1 5.3 3 2.9 4.2zM448.4 402.6l-5.9 -2.2 -2.5 -1.9 -1.9 -4 0.3 -4 5.1 -8.1 9.7 -10.2 5.3 -4.7 5.4 0.1 2.9 18.9 3.5 8 1 4 -0.8 4.1 -1.3 0.7 -5.3 0.5zM927.7 488.3l4.5 -1.2 -4.3 -4 -0.9 0 -3.6 4zM1220.9 448l5.4 0.4 7 -5.6 1.6 -4 -1.4 -4 -1.9 -1.1 -5.3 0.3 -5.4 4 -2.1 4.8 1 4.1zM1263.6 431l15.2 -4.3 6.1 -0.3 5.4 0.7 15.9 5.6 5.4 1.1 16 0.4 16 -1.3 5.3 -3.5 10.7 -15.8 7.5 -7 8.5 -3.2 31.9 -9.4 21.4 -7.9 21.3 -4.4 21.3 2.9 16 0.9 21.3 -0.5 16 -2.5 5.4 0.4 0 -21.6 -5.4 1 -21.3 0.4 -37.3 4.2 -48 0.3 -26.6 3 -16 -0.4 -21.4 1.2 -32 -2.1 -10.6 -2.1 -16 -6.7 -37.3 -10.8 -10.7 -0.8 -16 1.8 -5.3 -1.2 -10.7 -8.7 -5.3 -1.5 -5.4 1.2 -5.3 2.6 -5.3 1.2 -10.7 -1.3 -10.6 -3.7 -5.4 0 -10.6 5.1 -5.4 0.5 -16 -0.1 -58.6 2.6 -26.7 3.1 -5.9 4.2 3.7 4 34.2 9.1 26.7 4 16 1.4 48 8.1 15.4 1.5 11.2 4.9 5.3 1.4 10.7 0 5.3 2.9 5.4 5.6 6.7 9.4 14.6 17.3 5.3 4 5.4 2.4zM975.7 408.6l5.3 -0.3 6.1 -1.7 3.3 -4 -4 -2.5 -5.4 -1.4 -5.3 -0.3 -10.7 1.7 -6.1 2.5 2.9 4zM1034.3 409.6l5.4 0.3 21.3 -1.4 8.5 -1.9 -0.4 -4 -2.8 -1.2 -5.3 -1 -21.3 -1 -5.4 0.5 -8.3 2.7 0.8 4zM80 402.7l37.3 -0.4 16 -2.4 10.7 -3.8 5.9 -5.6 1.5 -4 -2.1 -12.1 1.7 -4 8.9 -7 3.3 -5.1 1.4 -4 0.4 -8.1 -1 -4 -2.3 -4 -1.8 -1.8 -5.3 -2.2 -5.3 1.9 -2 2.1 -2 4 -1.3 14.3 -0.9 1.8 -4.5 1.3 -10.6 -3.9 -16 -1.8 -16 0.3 -16 2.6 -5.4 -0.6 -21.3 -6.7 -10.6 -1.2 -10.7 1.3 -21.3 6.7 -10.7 1.2 0 29.2 5.3 1.4 16 1.6 5.4 1.3 26.6 9.4zM906.4 405.3l16 0.8 10.6 -1.3 5.3 -2.2 -2.9 -4.1 -2.4 -0.7 -26.6 -3.6 -5.9 0.3 -9.7 4 3.2 4.1zM1141 323.8l5.3 0.9 3.6 -2.6 -1.2 -4.1 -2.4 -1.8 -5.3 -2.3 -5.4 2.2 -0.7 1.9 3.3 4.1z"/>
<path fill="#cbeac4" fill-rule="evenodd" d="M773.1 463.6l5.3 0.4 9.5 -1 5.1 -4.1 -4.4 -4 -10.3 -4 -6.7 -4 -2.5 -4.1 0.2 -16.1 4.5 -4 11 -4 9.6 -1.6 21.3 -1 10.7 -3.3 11.8 -6.2 -1.3 -4 -5.2 -3.8 -6.9 -8.3 -5 -4 -0.2 -4.1 21.5 -8 26.7 -12.1 -11.9 -4 -18.8 0.4 -26.7 -1.8 -21.3 0.8 -26.7 -2.6 -21.3 -3 -32 0.6 -42.6 3.1 -10.7 -0.7 -21.3 -3.2 -26.7 0.4 -10.7 -1.3 -10.6 -3.1 -27.1 -5.7 -10.2 -1 -10.7 3 -5.3 2.3 -5.1 3.7 -10.9 15.2 -5.4 3.7 -5.3 -0.2 -16 -5.4 -5.3 -0.5 -5.4 0.8 -4.7 2.5 -3.2 4.1 -1.2 8 0.9 8.1 2.9 5.1 5.3 5.8 5.4 2.7 16 2.9 10.6 5.9 5.4 1.1 5.3 -0.4 8.8 -3 12.5 -6.2 5.4 1.6 5.3 2.8 14.4 9.8 6.9 3.1 10.7 3.2 16 3.1 10.6 1 10.7 -0.1 5.3 -0.7 21.4 -5.4 5.3 -0.1 21.3 4 16 1.7 7.3 2.3 3.9 4 6.9 4.1 8 8 30.7 8.1 7.2 3.7 5.3 4.9 5.4 2.7zM532.2 382.4l1 -1 5.3 0.1 2.6 0.9 2.7 4.1 -5.3 0.6zM554.8 386.5l2.4 -4.1 2.6 -0.7 5.4 -0.9 6.1 1.6 -0.8 4.2 -5.3 1.1 -5.4 -0.1zM1226.3 444.1l1.5 -1.3 0.1 -4 -1.6 -0.7 -0.9 0.7 -1.5 4zM239.9 433.1l5.4 0.8 10.6 -2.2 10.7 -0.9 21.3 1.3 10.7 -0.5 21.3 -1.9 16 -2.5 10.7 1 16 3.9 5.3 0.3 16 -0.9 16 2.8 10.6 0.1 10.7 -1.4 8.2 -2.3 7.8 -5.4 5.3 -2.5 15 -4.1 4.8 -4.1 -3.8 -4 -16 -2 -5.3 -1.4 -16 -6.6 -10.7 1.6 -16 5 -5.3 0.8 -26.6 -2.8 -21.4 0.4 -21.3 3.5 -26.7 -0.7 -21.3 4.5 -16 0.3 -6.3 1.4 -4.9 4.1 -2.2 8 -4.5 4zM1311.6 429.3l10.6 1.2 10.7 -1.3 5.3 -1.7 6.6 -4.8 11.7 -16.1 4.1 -4 4.3 -2 21.3 -5.3 21.3 -6.8 13.2 -6.1 6 -4 0.9 -4 -4.1 -1.6 -5.3 -0.9 -21.3 1.8 -21.3 -0.4 -21.4 1.7 -21.3 -1.4 -16 0.8 -10.7 -0.7 -5.3 -0.9 -5.3 -2.2 -6.2 -4.3 -8.6 -4 -22.5 -8.8 -10.7 -1.4 -16 2.7 -5.3 -1.2 -10.7 -10.5 -5.3 -1.8 -5.4 1.2 -10.6 4.4 -10.7 -0.4 -10.6 -2.2 -10.7 3.4 -5.3 0.7 -16 -0.5 -10.7 0.6 -42.6 3.5 -10.5 2.3 0.2 4 10.3 4.6 37.3 4.7 21.3 5.1 21.3 3.9 21.4 1.6 15.9 6.6 5.4 -0.9 3.2 -1.5 7.4 -5.1 5.4 -0.1 1.2 1.2 3.3 12.1 10.1 16.1 6.7 7.6 5.3 4.1 5.4 1.8 5.3 0.5 26.7 -0.3 5.3 1.2zM112 395.2l10.6 -0.5 10.7 -2.1 5.9 -2.1 4 -4 0.4 -4.1 -3.9 -12 -2.7 -4.1 -3.7 -3 -5.3 -2.5 -5.4 -1.1 -5.3 -0.1 -10.7 1.4 -5.3 2.4 -8.2 11 -2 4 -0.1 4 2.2 4.1 4.8 4 3.3 1.5zM48 389l10.6 1 5.4 -1.1 4.3 -2.4 2.4 -4.1 2.1 -8 -0.7 -4 -4.8 -8.1 -3.4 -4 -6.5 -4 -9.4 -2.6 -5.3 -0.1 -10.7 1.3 -5.3 1.8 -21.4 10.4 -1.8 1.2 -2.6 4.1 -0.9 2.9 0.6 5.1 4.7 2.6 26.7 3.7 5.3 -0.9zM421.2 387l5.3 2.6 5.4 -2.3 12.7 -12.9 5.2 -8.1 1.5 -8 -1.1 -4 -4.5 -8.1 11.3 -12.1 2 -4 0 -4 -1.9 -4 -3.6 -4.1 -5.6 -2.5 -5.4 -0.3 -5.3 2.5 -8.1 12.4 -14 8.1 -4 4 -1.7 4 -1.5 8.1 0.6 4 7.4 9.1 1.2 3 1.7 12zM1492.9 380.3l10.6 -0.2 8 -1.7 2.9 -4 -5.6 -3.7 -5.3 -0.4 -28.4 4.1 3.1 4zM922.4 369l16 -0.2 45.8 -10.5 -2.3 -4 -15.3 -4.1 -12.2 -0.8 -21.4 2.1 -26.6 1.2 -22.3 5.6 -4.4 2.4 -5.3 1.6zM154.6 360.8l5.3 -3.6 2.8 -7 0 -4 -1.2 -4 -1.6 -2.3 -5.3 -3 -5.3 3.2 -1.3 2.1 -1 8 2.3 7.2z"/>
<path fill="#bbe4b4" fill-rule="evenodd" d="M746.4 439.8l5.8 -1 0.2 -4 -0.6 -0.9 -5.4 -2 -3.6 2.9 1.5 4zM357.2 426.7l10.7 1.3 6.2 -1.3 2.3 -4 -0.1 -8.1 -6.8 -4 -12.3 -1.1 -17.3 1.1 -10.4 4 1.3 4.1zM405.2 428.1l5.3 -0.3 3 -1.1 0.9 -4 -3.9 -2.3 -5.3 1.9 -3.5 4.4zM1316.9 427l10.7 -0.3 5.3 -1.5 5.3 -2.9 7.2 -7.7 8.8 -13.9 5.4 -3.8 26.6 -6.4 12.4 -4 7.1 -4.1 -3.5 -4 -21.3 -1.1 -26.7 1.7 -21.3 -2 -26.7 1.8 -10.6 -0.3 -5.3 -2.2 -10.7 -7.2 -18.6 -10.8 -8.1 -2.9 -5.3 -0.4 -5.3 0.8 -10.7 3.7 -5.3 -0.9 -2.5 -4.3 -6.8 -8.1 -6.7 -3.3 -5.4 1 -10.6 5 -16 0.5 -16 2.8 -26.7 -0.3 -16.7 2.4 -14.2 4 9.6 1.3 32 9.1 21.3 4.9 21.4 1.9 5.3 1.5 5.3 3.2 5.3 1.7 5.4 -1.1 10.6 -8.8 5.4 -2.9 5.3 3.3 4.4 6 3.5 12.1 9 16.1 4.4 4.4 5.4 2.8 10.6 1.9 26.7 -1 5.3 2.3 6.3 5.7 4.4 2.6zM287.9 423.3l16.9 -0.6 8.8 -4 -9.7 -1.8 -5.3 0.1 -7.9 1.7 -4.8 4zM613.1 422.8l10.7 -0.4 5.3 -1 16 -6.3 5.4 -1.3 5.3 0 16 3.6 10.6 1.1 26.7 -2.8 5.3 1.2 10.7 4.9 5.3 0.1 6 -3.2 10 -2.7 16 2.1 5.4 0 21.3 -4.2 21.3 -1.1 5.3 -1 3.3 -1.2 4.4 -4 -1.1 -4 -6.6 -4.3 -5.3 -1.3 -16 0.6 -48 -12.3 -10.6 -1.2 -4.4 -1.7 0.4 -4 4 -0.6 26.6 0.9 21.3 -3.9 10.7 2 10.7 0.3 13.9 -2.7 11.3 -4 1.4 -4.1 -7.3 -4 -8.7 -1.6 -10.6 -0.3 -21.4 1.4 -31.9 -3 -21.4 -2.8 -21.3 -0.4 -42.6 3.2 -26.7 -2.4 -32 0.2 -21.3 2.5 -5.4 -1.2 -10.6 -4.2 -16 -3.1 -10.7 -0.1 -5.3 1.9 -2.6 1.9 -3.3 4 -1 4 3.1 4 9.1 5.5 5.4 2.2 5.3 0.2 10.7 -1 10.6 0.9 6.9 4.3 2.2 4 -0.8 4.1 -6.4 4 -11.6 4 -4 4 0.8 4.1 3.3 4 9.6 7.3 5.3 2.5 16 4.5zM517.2 403.1l5.3 -0.9 3.8 -3.7 0.9 -4 -2.1 -4 -2.6 -2.1 -5.3 -2.4 -10.7 -1.8 -1.7 -1.8 -1.4 -4 -2.7 -4 -5.9 -4 -4.3 -1.8 -5.3 -0.7 -5.4 1.4 -1.3 1.1 -2.7 4 -1 8 1.2 4.1 3.8 4.8 5.4 3.2 5.3 1.2 10.7 0.5zM112 388.5l5.3 0.9 5.3 -0.7 7.6 -2.2 3.1 -2.2 1.5 -1.9 -0.1 -4 -1.7 -4 -5 -6.3 -5.4 -2.2 -5.3 0.2 -5.3 2 -5.4 4.4 -2.7 5.9 0.7 4 3.6 4.1zM53.3 378.7l5.3 -1.4 3.1 -2.9 1.4 -4 -2.9 -8.1 -3.2 -4 -3.7 -2.1 -5.3 -1.6 -5.3 -0.1 -10.7 1.7 -5.3 2.5 -4.2 3.6 -2.2 4 0.6 4.1 5.8 3.1 5.3 0.3 5.3 -2.1 7.1 2.7 3.6 2.6zM426.5 379.6l5.4 -0.1 5.3 -4.5 3.5 -4.6 1.8 -4.5 -1.1 -3.6 -3.7 -4 -5.2 -4 -6 -3.5 -5.3 -0.5 -3.8 4 1.2 4 4.9 4 2.4 4 -0.6 8.1 0.4 4zM917 362.4l10.7 2.2 10.7 -0.7 7.7 -1.6 8.8 -4 -5.9 -2 -21.3 0.5 -10 1.5zM154.6 356l5.3 -4.8 0.5 -5 -2.4 -4 -3.4 -2.3 -3.1 2.3 -1.8 4 0.4 4 2.4 4.1z"/>
<path fill="#abdda5" fill-rule="evenodd" d="M1316.9 423.7l5.3 0.7 5.4 -0.8 5.3 -2.1 4 -2.8 7.1 -8.1 4.9 -10 5.3 -8 3 -2.1 2.4 -3 4.2 -1 -20.2 -4.8 -10.7 -1.6 -10.7 0.5 -21.3 2.5 -5.3 -0.4 -5.3 -1.8 -21.4 -11.8 -8 -6.8 -8 -4.1 -5.3 -0.6 -5.3 1 -7 3.7 -1.9 4 1.6 4.1 9.2 12 9.6 20.2 3.4 4 6.4 3.4 10.7 1.6 10.3 -1 11 -3.3 5.3 1.5 5.3 5.6 2.8 4.3 2.6 2.2zM357.2 420.3l5.4 -0.1 2 -1.5 -2 -2.3 -5.4 -1.8 -5.3 2.1 -0.9 2zM597.1 419l16 2.5 10.7 -0.9 5.9 -1.9 15.4 -9.5 5.4 -1.6 5.3 0 16 5.5 10.6 1.6 10.7 -1 16 -4.3 5.3 -0.5 16 2.6 37.4 1.5 21.3 -4 16 -0.8 6.2 -1.6 -6.2 -2.9 -10.7 -0.4 -10.7 -2.1 -10.6 -4.2 -21.3 -5.2 -10.7 -0.4 -16 1.7 -10.7 0.3 -5.3 -2.9 5.3 -4.8 5.4 -8.8 2.5 -2.5 2.8 -1.5 5.3 -1.3 26.7 0.7 10.7 -1 2.7 -0.9 2.2 -4.1 -4.9 -1.1 -16 -1.3 -21.4 -3.8 -16 -2 -53.3 4.1 -21.3 -1.6 -32 0.3 -10.7 2.2 -8.5 3.2 -2.2 4.1 8.1 12 -0.1 4.1 -6 4 -12.6 4.2 -5.9 3.8 -0.9 4.1 2.4 4 4.5 4 5.2 3.2zM669.9 390.5l1.9 -1.3 5.3 -0.9 6.4 2.2 -6.4 2.7 -5.3 0.4zM485.2 389l5.3 0.4 3.7 -2.9 1.1 -4.1 0 -4 -3 -4 -1.8 -1 -5.3 -0.8 -3.4 1.8 -2 2.5 -0.6 5.5 0.6 1.9 1.6 2.2zM1204.9 379.9l5.4 -1.6 9.4 -7.9 1.2 -2.3 2.3 -1.8 1.2 -4 -1 -4 -4.3 -8.1 -3.5 -3.4 -5.3 -2.6 -5.4 1.2 -10.6 5.3 -16 2.4 -10.7 3.2 -5.3 0.4 -16 -0.9 -5.3 0.5 -6.1 2 3.9 4 28.8 8.2 26.2 3.9zM799.7 370.9l9 -0.5 4 -4.1 -7.6 -1 -7.5 1 -0.2 4.1zM32 366.7l5.3 -1.5 1.3 1.1 9.4 3.2 5.3 -0.8 1.4 -2.4 -0.8 -4 -4.9 -4 -6.3 -0.5 -5.4 2.6 -5.3 0.6 -1.6 1.3zM565.2 364.2l4.1 -1.9 -4.1 -1.2 -3.4 1.2zM154.6 350.9l1.4 -4.7 -1.4 -2.1 -1.1 2.1z"/>
<path fill="#99d595" fill-rule="evenodd" d="M602.5 418.8l10.6 1.5 5.4 -0.3 5.4 -1.3 5.2 -2.9 2 -1.2 8.7 -10.5 11.9 -5.6 2.6 -4 -1.6 -4 -2.2 -1.7 -10.7 -4.4 -5.3 -4.7 -7.2 -9.3 -3.5 -2.5 -10.7 -2.8 -5.3 -0.1 -6.5 1.3 -5.7 4.1 0.8 4 10.8 12.1 -3.8 4 -11.6 1.7 -10.7 2.9 -6.3 3.4 -1.7 4.1 2.1 4 5.9 5 10.7 4.5zM1316.9 420l5.3 1.3 5.4 -0.9 5.3 -2.6 7.3 -7.2 4 -8 2.8 -8.1 -0.2 -4 -3.5 -4 -5.1 -2.1 -10.6 -1.1 -10.7 1.3 -16 4.1 -5.3 -0.1 -16 -10.5 -10.7 -4 -5.3 -3.1 -3.3 -4.7 -7.4 -5.3 -5.3 -0.8 -6.7 2.1 -2.7 4 0.8 4.1 3.3 4.1 5.4 3.9 3.9 4 3.1 8.1 3.6 6.7 5.3 6.3 5.3 2.4 5.4 0.8 5.3 -0.6 5.3 -2.8 5.4 -4.3 5.3 -1.8 5.3 3.6 5.3 5.9 5.4 8.1zM682.4 410.9l5.8 -0.3 9.4 -4 -0.4 -4 -4.1 -2 -5.3 -1.3 -5.4 0.1 -10.1 3.2 -1 4 5.8 3.2zM735.8 407.2l10.6 1.6 16 -0.4 6.7 -1.8 1.6 -4 -6.1 -4.1 -7.5 -2.2 -10.7 -1.3 -5.3 0.4 -11.1 3.1 -2.4 4.1zM698.4 381.5l5.4 0.1 5.3 -3 4 -4.2 11.6 -8.1 -4.2 -4 -11.4 -1.2 -32 3.6 -6.9 1.6 3 4.1zM1199.6 376l5.3 2 5.4 -1.2 7.5 -6.4 2.5 -4.1 0.9 -4 -1.2 -8 -2.3 -4.1 -2.1 -2.1 -5.3 -2.7 -5.4 1.2 -10.6 5.6 -10.7 2.3 -5.3 2.1 -9.3 5.7 1.1 4 8.2 3 16 3.5z"/>
<path fill="#87cd86" fill-rule="evenodd" d="M613.1 419l5.4 -0.5 5.3 -2 3.1 -1.9 2.4 -4 0.2 -4 -1.6 -4 -5.6 -4.1 -9.2 -3.2 -16 -1.2 -10.6 1.2 -5.4 1.9 -2.4 1.3 -2.3 4.1 1.6 4 8.5 5.9 16 5.1zM1316.9 415.1l5.3 2.6 5.4 -0.8 5.3 -3 3.2 -3.3 2.8 -4 3.1 -8.1 0.1 -4 -2.3 -4 -6.9 -3.3 -5.3 -0.4 -10.7 2.3 -3.4 1.4 -4.6 4 -1 4 0.9 4.1zM746.4 405.3l5.4 0.1 7.1 -2.8 -7.1 -3.8 -5.4 -0.4 -5.3 2.3 -1.8 1.9zM1268.9 399.3l5.4 0.8 5.3 -1.8 4.8 -3.8 2 -4 -1.6 -4 -5.2 -5 -5.3 -2.6 -5.4 -0.9 -5.3 0.6 -4.5 3.8 -0.4 4.1 1.6 4 3.3 4.9zM613.1 379.4l5.4 0 1.6 -1 0.3 -4 -7.3 -4.5 -7.1 0.5 -1.7 4 3.5 2.9zM1204.9 376.7l5.4 -1.5 5.5 -4.8 3.3 -4.1 1 -4 -1.1 -8 -3.4 -4.8 -5.3 -3 -5.4 0.9 -10.6 6.3 -13 4.6 -3.5 4 1.9 4 14.6 4.8zM1247.6 374.4l5.3 1.2 3.2 -1.2 1.6 -4 -2.1 -4.1 -2.7 -2.1 -5.3 -1.3 -5.5 3.4 0.7 4.1zM703.8 370.6l4.2 -4.3 -5.8 0 -1.9 4.1z"/>
<path fill="#73c476" fill-rule="evenodd" d="M597.1 415l10.7 2.5 5.3 0.3 5.4 -0.8 4.9 -2.4 2.3 -4 -1.1 -4 -4 -4 -12.8 -5.8 -5.3 -0.9 -10.7 0 -5.3 1 -5.4 2.8 -2.1 2.9 1.7 4 5.8 4.3zM1322.2 412.7l5.4 -0.2 3 -1.9 2.3 -1.6 4.2 -6.4 1.1 -4.1 -1.3 -4 -4 -2.8 -5.3 -0.6 -5.4 1.3 -4 2.1 -3.3 4 -0.3 4.1 1.7 4zM1268.9 393.2l5.4 1 5.4 -3.7 -0.3 -4 -5.1 -4.3 -5.4 -0.5 -1.9 0.7 -3 4.1 2.1 4zM1204.9 375.4l5.4 -1.4 4.3 -3.6 3.3 -4.1 1.2 -4 0 -4 -1.1 -4 -3 -4.1 -4.7 -2.9 -5.4 1 -10.6 7.1 -7.4 2.9 -3.7 4 3.6 4 7.5 3.1 5.3 3.7z"/>
<path fill="#5eb96b" fill-rule="evenodd" d="M602.5 415.5l10.6 1.2 5.4 -1.2 1.7 -0.9 2.4 -4 -1.6 -4 -4.9 -4 -8.3 -3.7 -5.3 -1.3 -10.7 -0.4 -5.3 1.2 -5 4.2 1.5 4 3.5 2.6 5.3 2.8zM1322.2 404.4l5.4 2.1 4.7 -3.9 0.8 -4.1 -5.5 -2.2 -4.9 2.2 -1.4 4.1zM1199.6 372l5.3 2.2 5.4 -1.2 6.3 -6.7 1.6 -4 0 -4 -1.2 -4 -3.3 -4.1 -3.4 -2.1 -5.4 1 -1.8 1.1 -8.8 6.9 -2.8 1.2 -3.2 4 3.1 4 2.9 1.4z"/>
<path fill="#4aaf61" fill-rule="evenodd" d="M607.8 415.5l5.3 0 3.4 -0.9 3.4 -4 -2 -4 -5.6 -4 -4.5 -2.1 -10.7 -2.1 -5.3 0.2 -5.3 1.8 -2.6 2.2 1.3 4 6.4 4zM1199.6 370.8l5.3 2.6 5.4 -1.3 5.2 -5.8 1.8 -4 0 -4 -1.7 -4.6 -5.3 -4.7 -5.8 1.2 -9.8 8.1 -2.8 4 2.6 4z"/>
<path fill="#39a257" fill-rule="evenodd" d="M597.1 411.5l10.7 2.8 5.3 -0.2 4.1 -3.5 -2.1 -4 -2 -1.5 -5.3 -3 -5.3 -1.7 -5.4 -0.7 -5.3 0.3 -5.5 2.6 1.3 4zM1204.9 372.5l6.4 -2.1 3.4 -4.1 1.6 -4 0.2 -4 -1.4 -4 -4.8 -4.5 -5.4 1 -4.6 3.5 -4.2 4 -1.5 4 1.3 4 4.8 4.1z"/>
<path fill="#2d954d" fill-rule="evenodd" d="M607.8 412.8l5.3 -1.1 1.3 -1.1 -2.2 -4 -9.7 -4.8 -5.4 -0.8 -5.3 0.5 -2.3 1.1 0.7 4 7.9 4zM1204.9 371.7l5.4 -1.4 3.7 -4 1.5 -4 0.1 -4 -1.3 -4 -4 -3.7 -5.4 0.9 -3.7 2.8 -3.8 4 -1.5 4 1.3 4z"/>
<path fill="#1f8742" fill-rule="evenodd" d="M602.5 410.6l5.3 0.6 2.2 -0.6 -1.1 -4 -10 -4 -4 0 -1.6 4zM1204.9 370.9l5.4 -1.4 2.9 -3.2 1.6 -4 0.1 -4 -1.4 -4 -3.2 -3 -5.4 0.9 -2.7 2.1 -3.4 4 -1.7 4 1.5 4z"/>
<path fill="#117b38" fill-rule="evenodd" d="M1204.9 370.1l5.4 -1.4 2.2 -2.4 1.7 -4 0.1 -4 -1.7 -4 -2.3 -2.2 -5.4 0.8 -1.7 1.4 -3.2 4 -1.7 4 1.6 4z"/>
<path fill="#016e2d" fill-rule="evenodd" d="M1204.9 369.3l5.4 -1.4 3.2 -5.6 0.1 -4 -1.8 -4 -1.5 -1.4 -5.4 0.8 -4.1 4.6 -1.2 4 1.3 4z"/>
<path fill="#005e26" fill-rule="evenodd" d="M1204.9 368.5l5.4 -1.4 2.6 -4.8 0 -4 -2.6 -4.6 -5.4 0.8 -3.3 3.8 -1.2 4 1.6 4z"/>
<path fill="#004c1e" fill-rule="evenodd" d="M1204.9 367.7l5.4 -1.4 2 -4 0 -4 -2 -3.8 -5.4 0.9 -2.4 2.9 -1.2 4 1.8 4z"/></g>
<filter id="nz" x="0" y="0" width="100%" height="100%" color-interpolation-filters="sRGB"><feTurbulence type="fractalNoise" baseFrequency="0.06 0.08" numOctaves="2" seed="5"/><feColorMatrix type="matrix" values="0 0 0 0 0.961  0 0 0 0 0.953  0 0 0 0 0.933  40 0 0 0 -19.4"/></filter>
</defs>
<g transform="translate(150.30 325.00)">
<g transform="scale(1.00041 0.99999)" clip-path="url(#clip)">
<rect x="0" y="0" width="1530.18" height="768.91" fill="#f4fbf1"/>
<use href="#field"/>
<path fill="#fff" fill-rule="evenodd" d="M166 769l26 -3 51 3 82 0 30 -2 35 2 93 0 58 -3 67 3 48 0 32 -2 21 2 61 -1 22 1 138 -1 458 1 28 -2 18 2 33 0 29 -2 37 2 0 -83 -13 -2 -11 1 -33 12 -34 4 -106 -6 -51 -1 -5 -2 -13 -11 -2 -4 2 -4 16 -10 -3 -3 -3 1 -16 4 -8 4 -5 8 -2 14 -5 4 -9 2 -22 1 -45 -4 -27 3 -26 -3 -8 3 -6 7 -8 1 -56 -6 -34 3 -32 -2 -27 2 -48 10 -14 5 -2 2 3 2 16 3 3 3 -6 1 -13 -3 -8 -4 -7 -2 -25 -4 -54 4 -26 -3 -51 1 -5 -2 0 -2 2 -4 22 -10 3 -2 -1 -4 -10 -5 -83 -14 -19 -7 -24 2 -18 -2 -30 1 -37 3 -26 -3 -24 0 -16 -2 -30 5 -42 -2 -19 3 -21 9 -30 7 -3 -1 -2 -10 -5 -4 -11 -2 -21 -1 -19 -5 -8 -1 -8 1 -35 12 -18 4 -30 -3 -34 6 -35 -2 -72 5 0 82zM1237 731l-18 -4 -3 -3 -2 -3 4 -4 11 -3 29 -5 7 2 0 6 -7 11 -8 3zM1224 490l6 0 5 -4 1 -22 -3 -4 -9 -6 -19 -9 -5 -1 -3 2 -3 6 2 10 14 12 8 12zM48 480l5 -2 1 -4 -4 -10 -6 -6 -9 -5 -6 -1 -5 2 -5 6 -1 4 3 4 19 9zM1376 343l18 2 59 -9 6 -3 5 -10 11 -12 -3 -4 -11 -7 -8 -2 -8 2 -40 17 -27 6 -10 4 -3 4 0 6 5 4zM997 329l11 -1 32 -8 10 -5 8 -6 6 -8 4 -10 -1 -6 -9 -6 -10 -1 -16 4 -16 7 -18 12 -5 12 -6 8 -1 4 2 2zM109 299l14 1 8 -3 15 -10 2 -4 0 -4 -7 -6 -10 -3 -14 0 -10 3 -3 2 -7 18 4 4zM365 259l11 1 21 -7 22 -1 4 -3 0 -2 -4 -4 -15 -6 -3 -4 -2 -6 -7 -4 -35 3 -18 6 -7 5 0 6 7 8zM1330 125l8 1 7 -2 28 -20 10 -6 51 -10 8 -4 15 -16 16 -14 9 -4 22 -7 4 -3 2 -4 -5 -4 -9 -2 -30 -1 -34 -5 -27 -2 -32 4 -40 -2 -80 2 -35 -2 -64 2 -82 11 -38 8 -19 7 -22 16 -7 2 -10 1 -35 -4 -27 -1 -33 -4 -23 -4 -6 -4 -4 -4 -3 -16 2 -6 15 -12 -1 -4 -11 -3 -26 0 -30 -4 -74 -2 -32 3 -88 -2 -75 3 -40 -3 -64 3 -24 -1 -37 5 -45 1 -30 5 -26 -1 -126 5 -10 3 -3 4 3 10 5 3 11 1 40 5 29 0 35 2 37 1 11 1 40 12 4 3 4 8 5 5 11 4 10 2 27 -3 21 1 28 -7 47 -6 19 2 37 10 16 0 24 -5 10 0 67 8 61 1 46 9 18 2 22 -2 28 -7 30 -3 78 6 45 -3 80 12 38 10 23 12 14 2 26 -3 24 -7 14 1 21 -2 21 6 14 -3 13 -6 5 -6 -1 -4 -18 -10 3 -4 8 -1 14 4 3 3 2 8 3 4zM537 32l-5 -4 0 -4 4 -3 5 -2 35 0 8 2 4 3 -1 4 -2 2 -9 3 -27 1z"/>
<use href="#coast"/>
</g>
<line x1="-21" x2="0" y1="768.90" y2="768.90" stroke="#000" stroke-width="6.2"/>
<line x1="-21" x2="0" y1="640.75" y2="640.75" stroke="#000" stroke-width="6.2"/>
<line x1="-21" x2="0" y1="512.60" y2="512.60" stroke="#000" stroke-width="6.2"/>
<line x1="-21" x2="0" y1="384.45" y2="384.45" stroke="#000" stroke-width="6.2"/>
<line x1="-21" x2="0" y1="256.30" y2="256.30" stroke="#000" stroke-width="6.2"/>
<line x1="-21" x2="0" y1="128.15" y2="128.15" stroke="#000" stroke-width="6.2"/>
<line x1="-21" x2="0" y1="0.00" y2="0.00" stroke="#000" stroke-width="6.2"/>
<line x1="0.00" x2="0.00" y1="768.90" y2="789.90" stroke="#000" stroke-width="6.2"/>
<line x1="256.02" x2="256.02" y1="768.90" y2="789.90" stroke="#000" stroke-width="6.2"/>
<line x1="512.04" x2="512.04" y1="768.90" y2="789.90" stroke="#000" stroke-width="6.2"/>
<line x1="768.07" x2="768.07" y1="768.90" y2="789.90" stroke="#000" stroke-width="6.2"/>
<line x1="1024.09" x2="1024.09" y1="768.90" y2="789.90" stroke="#000" stroke-width="6.2"/>
<line x1="1280.11" x2="1280.11" y1="768.90" y2="789.90" stroke="#000" stroke-width="6.2"/>
<rect x="0" y="0" width="1530.80" height="768.90" fill="none" stroke="#000" stroke-width="6.2"/>
</g>
<text x="35.2" y="1109.7" font-size="44.17" textLength="79.5" lengthAdjust="spacingAndGlyphs">90S</text>
<text x="35.2" y="981.5" font-size="44.17" textLength="79.5" lengthAdjust="spacingAndGlyphs">60S</text>
<text x="35.2" y="853.4" font-size="44.17" textLength="79.5" lengthAdjust="spacingAndGlyphs">30S</text>
<text x="88.2" y="725.2" font-size="44.17" textLength="26.5" lengthAdjust="spacingAndGlyphs">0</text>
<text x="30.5" y="597.1" font-size="44.17" textLength="84.2" lengthAdjust="spacingAndGlyphs">30N</text>
<text x="30.5" y="468.9" font-size="44.17" textLength="84.2" lengthAdjust="spacingAndGlyphs">60N</text>
<text x="30.5" y="340.8" font-size="44.17" textLength="84.2" lengthAdjust="spacingAndGlyphs">90N</text>
<text x="137.0" y="1160.1" font-size="44.17" textLength="26.5" lengthAdjust="spacingAndGlyphs">0</text>
<text x="366.6" y="1160.1" font-size="44.17" textLength="79.4" lengthAdjust="spacingAndGlyphs">60E</text>
<text x="609.4" y="1160.1" font-size="44.17" textLength="105.9" lengthAdjust="spacingAndGlyphs">120E</text>
<text x="878.6" y="1160.1" font-size="44.17" textLength="79.5" lengthAdjust="spacingAndGlyphs">180</text>
<text x="1114.0" y="1160.1" font-size="44.17" textLength="120.7" lengthAdjust="spacingAndGlyphs">120W</text>
<text x="1383.3" y="1160.1" font-size="44.17" textLength="94.2" lengthAdjust="spacingAndGlyphs">60W</text>
<g transform="translate(1873.00 325.00)">
<g transform="scale(1.00119 1.00012)" clip-path="url(#clip)">
<rect x="0" y="0" width="1530.18" height="768.91" fill="#f4fbf1"/>
<use href="#field"/>
<use href="#coast"/>
</g>
<line x1="-21" x2="0" y1="769.00" y2="769.00" stroke="#000" stroke-width="6.2"/>
<line x1="-21" x2="0" y1="640.83" y2="640.83" stroke="#000" stroke-width="6.2"/>
<line x1="-21" x2="0" y1="512.67" y2="512.67" stroke="#000" stroke-width="6.2"/>
<line x1="-21" x2="0" y1="384.50" y2="384.50" stroke="#000" stroke-width="6.2"/>
<line x1="-21" x2="0" y1="256.33" y2="256.33" stroke="#000" stroke-width="6.2"/>
<line x1="-21" x2="0" y1="128.17" y2="128.17" stroke="#000" stroke-width="6.2"/>
<line x1="-21" x2="0" y1="0.00" y2="0.00" stroke="#000" stroke-width="6.2"/>
<line x1="0.00" x2="0.00" y1="769.00" y2="790.00" stroke="#000" stroke-width="6.2"/>
<line x1="256.22" x2="256.22" y1="769.00" y2="790.00" stroke="#000" stroke-width="6.2"/>
<line x1="512.45" x2="512.45" y1="769.00" y2="790.00" stroke="#000" stroke-width="6.2"/>
<line x1="768.67" x2="768.67" y1="769.00" y2="790.00" stroke="#000" stroke-width="6.2"/>
<line x1="1024.89" x2="1024.89" y1="769.00" y2="790.00" stroke="#000" stroke-width="6.2"/>
<line x1="1281.11" x2="1281.11" y1="769.00" y2="790.00" stroke="#000" stroke-width="6.2"/>
<rect x="0" y="0" width="1532.00" height="769.00" fill="none" stroke="#000" stroke-width="6.2"/>
</g>
<text x="1757.9" y="1109.8" font-size="44.17" textLength="79.5" lengthAdjust="spacingAndGlyphs">90S</text>
<text x="1757.9" y="981.6" font-size="44.17" textLength="79.5" lengthAdjust="spacingAndGlyphs">60S</text>
<text x="1757.9" y="853.5" font-size="44.17" textLength="79.5" lengthAdjust="spacingAndGlyphs">30S</text>
<text x="1810.9" y="725.3" font-size="44.17" textLength="26.5" lengthAdjust="spacingAndGlyphs">0</text>
<text x="1753.2" y="597.1" font-size="44.17" textLength="84.2" lengthAdjust="spacingAndGlyphs">30N</text>
<text x="1753.2" y="469.0" font-size="44.17" textLength="84.2" lengthAdjust="spacingAndGlyphs">60N</text>
<text x="1753.2" y="340.8" font-size="44.17" textLength="84.2" lengthAdjust="spacingAndGlyphs">90N</text>
<text x="1859.7" y="1160.2" font-size="44.17" textLength="26.5" lengthAdjust="spacingAndGlyphs">0</text>
<text x="2089.5" y="1160.2" font-size="44.17" textLength="79.4" lengthAdjust="spacingAndGlyphs">60E</text>
<text x="2332.5" y="1160.2" font-size="44.17" textLength="105.9" lengthAdjust="spacingAndGlyphs">120E</text>
<text x="2601.9" y="1160.2" font-size="44.17" textLength="79.5" lengthAdjust="spacingAndGlyphs">180</text>
<text x="2837.5" y="1160.2" font-size="44.17" textLength="120.7" lengthAdjust="spacingAndGlyphs">120W</text>
<text x="3107.0" y="1160.2" font-size="44.17" textLength="94.2" lengthAdjust="spacingAndGlyphs">60W</text>
<g transform="translate(1010.00 1480.00)">
<g transform="scale(1.00256 1.00142)" clip-path="url(#clip)">
<rect x="0" y="0" width="1530.18" height="768.91" fill="#eff3f3"/>
<rect x="0" y="0" width="1530.2" height="768.9" fill="#f5f3ee" filter="url(#nz)"/><path d="M-4 769L-4 689L-3 689L0 690L32 684L41 685L48 687L55 685L64 684L68 686L79 684L96 686L115 685L134 682L140 679L147 677L156 680L166 683L175 679L192 676L200 673L217 669L224 666L233 665L241 666L246 669L256 672L265 676L274 672L286 675L295 676L298 681L290 683L294 687L289 690L297 694L306 692L311 686L316 683L332 681L341 676L351 672L363 670L377 668L378 666L383 672L392 672L405 672L427 672L440 664L453 670L463 670L473 667L485 666L495 669L511 672L523 668L537 669L550 668L574 668L576 663L579 663L584 670L601 670L622 669L625 674L640 677L657 679L660 677L668 680L679 683L689 686L702 687L717 688L732 692L724 701L710 704L702 709L698 713L700 717L714 720L712 722L691 724L683 731L702 738L719 740L734 744L751 745L768 748L774 745L781 747L787 744L793 745L813 742L832 747L864 750L883 749L902 751L929 748L909 746L883 742L886 736L870 731L896 732L913 727L902 724L873 722L862 714L883 715L913 711L915 706L934 705L959 703L998 701L1033 703L1052 700L1058 704L1068 703L1081 706L1111 704L1103 700L1097 696L1103 692L1129 694L1122 699L1135 698L1157 696L1159 694L1173 697L1192 700L1197 697L1215 701L1228 699L1247 696L1253 692L1247 682L1250 672L1258 666L1269 662L1282 658L1295 656L1282 663L1272 668L1269 671L1259 674L1263 678L1274 685L1277 692L1280 698L1266 706L1237 713L1208 714L1224 717L1207 720L1215 728L1256 733L1278 736L1291 741L1309 738L1329 735L1358 736L1374 732L1417 728L1412 724L1387 724L1388 719L1419 713L1446 708L1470 704L1473 698L1484 695L1495 690L1501 691L1511 689L1532 689L1536 690L1540 690L1540 769z" fill="#f5f3ee"/>
<use href="#coast"/>
</g>
<line x1="-21" x2="0" y1="770.00" y2="770.00" stroke="#000" stroke-width="6.2"/>
<line x1="-21" x2="0" y1="641.67" y2="641.67" stroke="#000" stroke-width="6.2"/>
<line x1="-21" x2="0" y1="513.33" y2="513.33" stroke="#000" stroke-width="6.2"/>
<line x1="-21" x2="0" y1="385.00" y2="385.00" stroke="#000" stroke-width="6.2"/>
<line x1="-21" x2="0" y1="256.67" y2="256.67" stroke="#000" stroke-width="6.2"/>
<line x1="-21" x2="0" y1="128.33" y2="128.33" stroke="#000" stroke-width="6.2"/>
<line x1="-21" x2="0" y1="0.00" y2="0.00" stroke="#000" stroke-width="6.2"/>
<line x1="0.00" x2="0.00" y1="770.00" y2="791.00" stroke="#000" stroke-width="6.2"/>
<line x1="256.57" x2="256.57" y1="770.00" y2="791.00" stroke="#000" stroke-width="6.2"/>
<line x1="513.15" x2="513.15" y1="770.00" y2="791.00" stroke="#000" stroke-width="6.2"/>
<line x1="769.72" x2="769.72" y1="770.00" y2="791.00" stroke="#000" stroke-width="6.2"/>
<line x1="1026.30" x2="1026.30" y1="770.00" y2="791.00" stroke="#000" stroke-width="6.2"/>
<line x1="1282.87" x2="1282.87" y1="770.00" y2="791.00" stroke="#000" stroke-width="6.2"/>
<rect x="0" y="0" width="1534.10" height="770.00" fill="none" stroke="#000" stroke-width="6.2"/>
</g>
<text x="894.9" y="2265.8" font-size="44.17" textLength="79.5" lengthAdjust="spacingAndGlyphs">90S</text>
<text x="894.9" y="2137.5" font-size="44.17" textLength="79.5" lengthAdjust="spacingAndGlyphs">60S</text>
<text x="894.9" y="2009.1" font-size="44.17" textLength="79.5" lengthAdjust="spacingAndGlyphs">30S</text>
<text x="947.9" y="1880.8" font-size="44.17" textLength="26.5" lengthAdjust="spacingAndGlyphs">0</text>
<text x="890.2" y="1752.5" font-size="44.17" textLength="84.2" lengthAdjust="spacingAndGlyphs">30N</text>
<text x="890.2" y="1624.1" font-size="44.17" textLength="84.2" lengthAdjust="spacingAndGlyphs">60N</text>
<text x="890.2" y="1495.8" font-size="44.17" textLength="84.2" lengthAdjust="spacingAndGlyphs">90N</text>
<text x="996.7" y="2316.2" font-size="44.17" textLength="26.5" lengthAdjust="spacingAndGlyphs">0</text>
<text x="1226.9" y="2316.2" font-size="44.17" textLength="79.4" lengthAdjust="spacingAndGlyphs">60E</text>
<text x="1470.2" y="2316.2" font-size="44.17" textLength="105.9" lengthAdjust="spacingAndGlyphs">120E</text>
<text x="1740.0" y="2316.2" font-size="44.17" textLength="79.5" lengthAdjust="spacingAndGlyphs">180</text>
<text x="1975.9" y="2316.2" font-size="44.17" textLength="120.7" lengthAdjust="spacingAndGlyphs">120W</text>
<text x="2245.8" y="2316.2" font-size="44.17" textLength="94.2" lengthAdjust="spacingAndGlyphs">60W</text>
<rect x="3481.70" y="1053.64" width="76.70" height="41.06" fill="#f4fbf1"/>
<rect x="3481.70" y="1013.17" width="76.70" height="41.06" fill="#ecf8e8"/>
<rect x="3481.70" y="972.71" width="76.70" height="41.06" fill="#e4f5df"/>
<rect x="3481.70" y="932.25" width="76.70" height="41.06" fill="#d7efd1"/>
<rect x="3481.70" y="891.78" width="76.70" height="41.06" fill="#cbeac4"/>
<rect x="3481.70" y="851.32" width="76.70" height="41.06" fill="#bbe4b4"/>
<rect x="3481.70" y="810.86" width="76.70" height="41.06" fill="#abdda5"/>
<rect x="3481.70" y="770.39" width="76.70" height="41.06" fill="#99d595"/>
<rect x="3481.70" y="729.93" width="76.70" height="41.06" fill="#87cd86"/>
<rect x="3481.70" y="689.47" width="76.70" height="41.06" fill="#73c476"/>
<rect x="3481.70" y="649.01" width="76.70" height="41.06" fill="#5eb96b"/>
<rect x="3481.70" y="608.54" width="76.70" height="41.06" fill="#4aaf61"/>
<rect x="3481.70" y="568.08" width="76.70" height="41.06" fill="#39a257"/>
<rect x="3481.70" y="527.62" width="76.70" height="41.06" fill="#2d954d"/>
<rect x="3481.70" y="487.15" width="76.70" height="41.06" fill="#1f8742"/>
<rect x="3481.70" y="446.69" width="76.70" height="41.06" fill="#117b38"/>
<rect x="3481.70" y="406.23" width="76.70" height="41.06" fill="#016e2d"/>
<rect x="3481.70" y="365.76" width="76.70" height="41.06" fill="#005e26"/>
<rect x="3481.70" y="325.30" width="76.70" height="41.06" fill="#004c1e"/>
<rect x="3481.70" y="325.60" width="76.70" height="768.80" fill="none" stroke="#000" stroke-width="3.3"/>
<line x1="3558.40" x2="3573.00" y1="1094.40" y2="1094.40" stroke="#000" stroke-width="3.3"/>
<text x="3587.6" y="1110.0" font-size="44.17" textLength="26.5" lengthAdjust="spacingAndGlyphs">0</text>
<line x1="3558.40" x2="3573.00" y1="1013.47" y2="1013.47" stroke="#000" stroke-width="3.3"/>
<text x="3587.6" y="1029.1" font-size="44.17" textLength="26.5" lengthAdjust="spacingAndGlyphs">2</text>
<line x1="3558.40" x2="3573.00" y1="932.55" y2="932.55" stroke="#000" stroke-width="3.3"/>
<text x="3587.6" y="948.1" font-size="44.17" textLength="26.5" lengthAdjust="spacingAndGlyphs">4</text>
<line x1="3558.40" x2="3573.00" y1="851.62" y2="851.62" stroke="#000" stroke-width="3.3"/>
<text x="3587.6" y="867.2" font-size="44.17" textLength="26.5" lengthAdjust="spacingAndGlyphs">6</text>
<line x1="3558.40" x2="3573.00" y1="770.69" y2="770.69" stroke="#000" stroke-width="3.3"/>
<text x="3587.6" y="786.3" font-size="44.17" textLength="26.5" lengthAdjust="spacingAndGlyphs">8</text>
<line x1="3558.40" x2="3573.00" y1="689.77" y2="689.77" stroke="#000" stroke-width="3.3"/>
<text x="3587.6" y="705.4" font-size="44.17" textLength="53.0" lengthAdjust="spacingAndGlyphs">10</text>
<line x1="3558.40" x2="3573.00" y1="608.84" y2="608.84" stroke="#000" stroke-width="3.3"/>
<text x="3587.6" y="624.4" font-size="44.17" textLength="53.0" lengthAdjust="spacingAndGlyphs">12</text>
<line x1="3558.40" x2="3573.00" y1="527.92" y2="527.92" stroke="#000" stroke-width="3.3"/>
<text x="3587.6" y="543.5" font-size="44.17" textLength="53.0" lengthAdjust="spacingAndGlyphs">14</text>
<line x1="3558.40" x2="3573.00" y1="446.99" y2="446.99" stroke="#000" stroke-width="3.3"/>
<text x="3587.6" y="462.6" font-size="44.17" textLength="53.0" lengthAdjust="spacingAndGlyphs">16</text>
<line x1="3558.40" x2="3573.00" y1="366.06" y2="366.06" stroke="#000" stroke-width="3.3"/>
<text x="3587.6" y="381.7" font-size="44.17" textLength="53.0" lengthAdjust="spacingAndGlyphs">18</text>
<rect x="2621.70" y="2230.27" width="76.60" height="20.33" fill="#5b3406"/>
<rect x="2621.70" y="2210.54" width="76.60" height="20.33" fill="#683c07"/>
<rect x="2621.70" y="2190.81" width="76.60" height="20.33" fill="#774508"/>
<rect x="2621.70" y="2171.08" width="76.60" height="20.33" fill="#844c09"/>
<rect x="2621.70" y="2151.35" width="76.60" height="20.33" fill="#91560d"/>
<rect x="2621.70" y="2131.62" width="76.60" height="20.33" fill="#9f6317"/>
<rect x="2621.70" y="2111.88" width="76.60" height="20.33" fill="#ab6e1f"/>
<rect x="2621.70" y="2092.15" width="76.60" height="20.33" fill="#b97b29"/>
<rect x="2621.70" y="2072.42" width="76.60" height="20.33" fill="#c38936"/>
<rect x="2621.70" y="2052.69" width="76.60" height="20.33" fill="#ca9849"/>
<rect x="2621.70" y="2032.96" width="76.60" height="20.33" fill="#d3aa5f"/>
<rect x="2621.70" y="2013.23" width="76.60" height="20.33" fill="#dbb972"/>
<rect x="2621.70" y="1993.50" width="76.60" height="20.33" fill="#e2c787"/>
<rect x="2621.70" y="1973.77" width="76.60" height="20.33" fill="#e8d097"/>
<rect x="2621.70" y="1954.04" width="76.60" height="20.33" fill="#edd9a8"/>
<rect x="2621.70" y="1934.31" width="76.60" height="20.33" fill="#f3e4bb"/>
<rect x="2621.70" y="1914.58" width="76.60" height="20.33" fill="#f6eac9"/>
<rect x="2621.70" y="1894.85" width="76.60" height="20.33" fill="#f6edd7"/>
<rect x="2621.70" y="1875.12" width="76.60" height="20.33" fill="#f5f0e2"/>
<rect x="2621.70" y="1855.38" width="76.60" height="20.33" fill="#f5f3ee"/>
<rect x="2621.70" y="1835.65" width="76.60" height="20.33" fill="#eff3f3"/>
<rect x="2621.70" y="1815.92" width="76.60" height="20.33" fill="#e2f0ee"/>
<rect x="2621.70" y="1796.19" width="76.60" height="20.33" fill="#d7eeeb"/>
<rect x="2621.70" y="1776.46" width="76.60" height="20.33" fill="#cbebe6"/>
<rect x="2621.70" y="1756.73" width="76.60" height="20.33" fill="#b9e4de"/>
<rect x="2621.70" y="1737.00" width="76.60" height="20.33" fill="#a6dcd4"/>
<rect x="2621.70" y="1717.27" width="76.60" height="20.33" fill="#95d6cc"/>
<rect x="2621.70" y="1697.54" width="76.60" height="20.33" fill="#81cec2"/>
<rect x="2621.70" y="1677.81" width="76.60" height="20.33" fill="#6dbfb4"/>
<rect x="2621.70" y="1658.08" width="76.60" height="20.33" fill="#58b0a7"/>
<rect x="2621.70" y="1638.35" width="76.60" height="20.33" fill="#47a49b"/>
<rect x="2621.70" y="1618.62" width="76.60" height="20.33" fill="#33958d"/>
<rect x="2621.70" y="1598.88" width="76.60" height="20.33" fill="#258880"/>
<rect x="2621.70" y="1579.15" width="76.60" height="20.33" fill="#187c74"/>
<rect x="2621.70" y="1559.42" width="76.60" height="20.33" fill="#0a6f67"/>
<rect x="2621.70" y="1539.69" width="76.60" height="20.33" fill="#016259"/>
<rect x="2621.70" y="1519.96" width="76.60" height="20.33" fill="#01564d"/>
<rect x="2621.70" y="1500.23" width="76.60" height="20.33" fill="#004c42"/>
<rect x="2621.70" y="1480.50" width="76.60" height="20.33" fill="#004135"/>
<rect x="2621.70" y="1480.80" width="76.60" height="769.50" fill="none" stroke="#000" stroke-width="3.3"/>
<line x1="2698.30" x2="2712.90" y1="2250.30" y2="2250.30" stroke="#000" stroke-width="3.3"/>
<text x="2727.5" y="2265.9" font-size="44.17" textLength="87.9" lengthAdjust="spacingAndGlyphs">−10</text>
<line x1="2698.30" x2="2712.90" y1="2171.38" y2="2171.38" stroke="#000" stroke-width="3.3"/>
<text x="2727.5" y="2187.0" font-size="44.17" textLength="61.4" lengthAdjust="spacingAndGlyphs">−8</text>
<line x1="2698.30" x2="2712.90" y1="2092.45" y2="2092.45" stroke="#000" stroke-width="3.3"/>
<text x="2727.5" y="2108.1" font-size="44.17" textLength="61.4" lengthAdjust="spacingAndGlyphs">−6</text>
<line x1="2698.30" x2="2712.90" y1="2013.53" y2="2013.53" stroke="#000" stroke-width="3.3"/>
<text x="2727.5" y="2029.1" font-size="44.17" textLength="61.4" lengthAdjust="spacingAndGlyphs">−4</text>
<line x1="2698.30" x2="2712.90" y1="1934.61" y2="1934.61" stroke="#000" stroke-width="3.3"/>
<text x="2727.5" y="1950.2" font-size="44.17" textLength="61.4" lengthAdjust="spacingAndGlyphs">−2</text>
<line x1="2698.30" x2="2712.90" y1="1855.68" y2="1855.68" stroke="#000" stroke-width="3.3"/>
<text x="2727.5" y="1871.3" font-size="44.17" textLength="26.5" lengthAdjust="spacingAndGlyphs">0</text>
<line x1="2698.30" x2="2712.90" y1="1776.76" y2="1776.76" stroke="#000" stroke-width="3.3"/>
<text x="2727.5" y="1792.4" font-size="44.17" textLength="26.5" lengthAdjust="spacingAndGlyphs">2</text>
<line x1="2698.30" x2="2712.90" y1="1697.84" y2="1697.84" stroke="#000" stroke-width="3.3"/>
<text x="2727.5" y="1713.4" font-size="44.17" textLength="26.5" lengthAdjust="spacingAndGlyphs">4</text>
<line x1="2698.30" x2="2712.90" y1="1618.92" y2="1618.92" stroke="#000" stroke-width="3.3"/>
<text x="2727.5" y="1634.5" font-size="44.17" textLength="26.5" lengthAdjust="spacingAndGlyphs">6</text>
<line x1="2698.30" x2="2712.90" y1="1539.99" y2="1539.99" stroke="#000" stroke-width="3.3"/>
<text x="2727.5" y="1555.6" font-size="44.17" textLength="26.5" lengthAdjust="spacingAndGlyphs">8</text>
<g transform="rotate(-90 3691.0 775.1)">
<text x="3691.0" y="775.1" font-size="44.17" textLength="121.7" lengthAdjust="spacingAndGlyphs">mm/d</text>
</g>
<g transform="rotate(-90 2867.0 1929.8)">
<text x="2867.0" y="1929.8" font-size="44.17" textLength="121.7" lengthAdjust="spacingAndGlyphs">mm/d</text>
</g>
<g transform="rotate(-90 1726.3 792.5)">
<text x="1726.3" y="792.5" font-size="44.17" textLength="81.2" lengthAdjust="spacingAndGlyphs">mm</text>
<text x="1820.7" y="792.5" font-size="44.17" textLength="26.5" lengthAdjust="spacingAndGlyphs">d</text>
<text x="1849.2" y="777.3" font-size="30.92" textLength="43.0" lengthAdjust="spacingAndGlyphs">−1</text>
</g>
<g transform="rotate(-90 863.3 1947.6)">
<text x="863.3" y="1947.6" font-size="44.17" textLength="81.2" lengthAdjust="spacingAndGlyphs">mm</text>
<text x="957.7" y="1947.6" font-size="44.17" textLength="26.5" lengthAdjust="spacingAndGlyphs">d</text>
<text x="986.2" y="1932.4" font-size="30.92" textLength="43.0" lengthAdjust="spacingAndGlyphs">−1</text>
</g>
<text x="1309.6" y="87.3" font-size="79.50" textLength="249.5" lengthAdjust="spacingAndGlyphs">PRECC</text>
<text x="1582.9" y="87.3" font-size="79.50" textLength="27.1" lengthAdjust="spacingAndGlyphs">-</text>
<text x="1633.8" y="87.3" font-size="79.50" textLength="180.7" lengthAdjust="spacingAndGlyphs">MAM</text>
<text x="1838.4" y="87.3" font-size="79.50" textLength="27.1" lengthAdjust="spacingAndGlyphs">-</text>
<text x="1889.3" y="87.3" font-size="79.50" textLength="251.0" lengthAdjust="spacingAndGlyphs">LatLon</text>
<text x="150.3" y="263.1" font-size="35.33" font-weight="bold" textLength="81.1" lengthAdjust="spacingAndGlyphs">Test</text>
<text x="237.9" y="263.1" font-size="35.33" textLength="11.2" lengthAdjust="spacingAndGlyphs">:</text>
<text x="255.8" y="263.1" font-size="35.33" textLength="141.6" lengthAdjust="spacingAndGlyphs">cams6.2</text>
<text x="150.3" y="300.8" font-size="35.33" textLength="103.0" lengthAdjust="spacingAndGlyphs">years:</text>
<text x="263.8" y="300.8" font-size="35.33" textLength="181.7" lengthAdjust="spacingAndGlyphs">2011-2012</text>
<text x="1873.3" y="260.4" font-size="35.33" font-weight="bold" textLength="159.5" lengthAdjust="spacingAndGlyphs">Baseline</text>
<text x="2039.3" y="260.4" font-size="35.33" textLength="11.2" lengthAdjust="spacingAndGlyphs">:</text>
<text x="2057.2" y="260.4" font-size="35.33" textLength="470.4" lengthAdjust="spacingAndGlyphs">mam.mar27.2000_2021.001</text>
<text x="1873.3" y="300.8" font-size="35.33" textLength="103.0" lengthAdjust="spacingAndGlyphs">years:</text>
<text x="1986.8" y="300.8" font-size="35.33" textLength="181.7" lengthAdjust="spacingAndGlyphs">2011-2012</text>
<text x="1513.9" y="301.0" font-size="35.33" textLength="70.4" lengthAdjust="spacingAndGlyphs">Min:</text>
<text x="1594.9" y="301.0" font-size="35.33" textLength="86.2" lengthAdjust="spacingAndGlyphs">-0.00</text>
<text x="1495.0" y="262.2" font-size="35.33" textLength="80.1" lengthAdjust="spacingAndGlyphs">Max:</text>
<text x="1585.7" y="262.2" font-size="35.33" textLength="95.4" lengthAdjust="spacingAndGlyphs">18.77</text>
<text x="1483.7" y="223.4" font-size="35.33" textLength="102.0" lengthAdjust="spacingAndGlyphs">Mean:</text>
<text x="1606.9" y="223.4" font-size="35.33" textLength="74.2" lengthAdjust="spacingAndGlyphs">1.22</text>
<text x="3239.2" y="301.0" font-size="35.33" textLength="70.4" lengthAdjust="spacingAndGlyphs">Min:</text>
<text x="3330.8" y="301.0" font-size="35.33" textLength="74.2" lengthAdjust="spacingAndGlyphs">0.00</text>
<text x="3218.9" y="262.2" font-size="35.33" textLength="80.1" lengthAdjust="spacingAndGlyphs">Max:</text>
<text x="3309.6" y="262.2" font-size="35.33" textLength="95.4" lengthAdjust="spacingAndGlyphs">18.50</text>
<text x="3207.6" y="223.4" font-size="35.33" textLength="102.0" lengthAdjust="spacingAndGlyphs">Mean:</text>
<text x="3330.8" y="223.4" font-size="35.33" textLength="74.2" lengthAdjust="spacingAndGlyphs">1.22</text>
<text x="2376.9" y="1456.0" font-size="35.33" textLength="70.4" lengthAdjust="spacingAndGlyphs">Min:</text>
<text x="2457.9" y="1456.0" font-size="35.33" textLength="86.2" lengthAdjust="spacingAndGlyphs">-0.53</text>
<text x="2368.6" y="1417.2" font-size="35.33" textLength="80.1" lengthAdjust="spacingAndGlyphs">Max:</text>
<text x="2469.9" y="1417.2" font-size="35.33" textLength="74.2" lengthAdjust="spacingAndGlyphs">0.71</text>
<text x="2346.7" y="1378.4" font-size="35.33" textLength="102.0" lengthAdjust="spacingAndGlyphs">Mean:</text>
<text x="2469.9" y="1378.4" font-size="35.33" textLength="74.2" lengthAdjust="spacingAndGlyphs">0.00</text>
<text x="1010.4" y="1455.0" font-size="35.33" font-weight="bold" textLength="81.1" lengthAdjust="spacingAndGlyphs">Test</text>
<text x="1097.9" y="1455.0" font-size="35.33" textLength="27.9" lengthAdjust="spacingAndGlyphs">−</text>
<text x="1133.2" y="1455.0" font-size="35.33" textLength="159.5" lengthAdjust="spacingAndGlyphs" font-weight="bold">Baseline</text>
<text x="1671.4" y="1455.0" font-size="35.33" textLength="105.4" lengthAdjust="spacingAndGlyphs">RMSE:</text>
<text x="1787.3" y="1455.0" font-size="35.33" textLength="95.4" lengthAdjust="spacingAndGlyphs">0.056</text>
</svg></body></html>
